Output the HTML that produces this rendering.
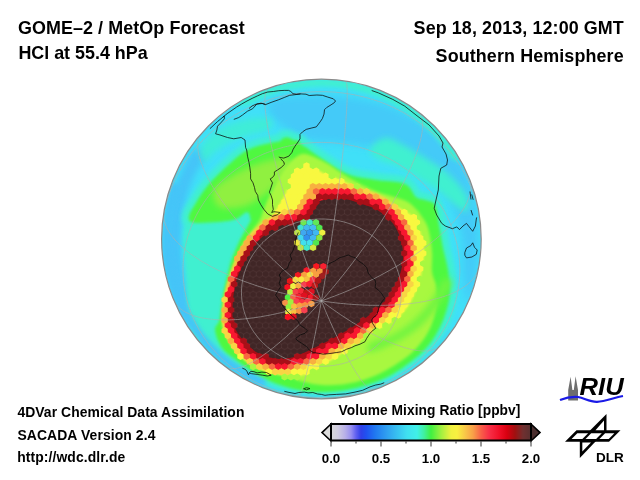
<!DOCTYPE html>
<html><head><meta charset="utf-8"><style>
html,body{margin:0;padding:0;background:#fff;}
svg{display:block;}
text{font-family:"Liberation Sans",Arial,sans-serif;font-weight:bold;fill:#000;}
svg{will-change:transform;}
</style></head><body>
<svg width="640" height="480" viewBox="0 0 640 480">
<defs>
<clipPath id="gc"><circle cx="321.4" cy="239.0" r="159.8"/></clipPath>
<filter id="b05" x="-10%" y="-10%" width="120%" height="120%"><feGaussianBlur stdDeviation="0.5"/></filter>
<filter id="b1" x="-10%" y="-10%" width="120%" height="120%"><feGaussianBlur stdDeviation="1"/></filter>
<filter id="b15" x="-10%" y="-10%" width="120%" height="120%"><feGaussianBlur stdDeviation="1.5"/></filter>
<filter id="b2" x="-10%" y="-10%" width="120%" height="120%"><feGaussianBlur stdDeviation="2"/></filter>
<filter id="b3" x="-10%" y="-10%" width="120%" height="120%"><feGaussianBlur stdDeviation="3"/></filter>
<filter id="b4" x="-10%" y="-10%" width="120%" height="120%"><feGaussianBlur stdDeviation="4"/></filter>
<pattern id="hexp" patternUnits="userSpaceOnUse" x="303.5" y="222.5" width="6.3" height="10.3"><path d="M0.00 -3.43L3.15 -1.72L3.15 1.72L0.00 3.43L-3.15 1.72L-3.15 -1.72ZM6.30 -3.43L9.45 -1.72L9.45 1.72L6.30 3.43L3.15 1.72L3.15 -1.72ZM3.15 1.72L6.30 3.43L6.30 6.87L3.15 8.58L0.00 6.87L0.00 3.43ZM0.00 6.87L3.15 8.58L3.15 12.02L0.00 13.73L-3.15 12.02L-3.15 8.58ZM6.30 6.87L9.45 8.58L9.45 12.02L6.30 13.73L3.15 12.02L3.15 8.58Z" fill="none" stroke="#6a5050" stroke-opacity="0.2" stroke-width="0.6"/></pattern>
<linearGradient id="cb" x1="0" x2="1" y1="0" y2="0"><stop offset="0.0" stop-color="#d8d8d8"/><stop offset="0.035" stop-color="#d0cce0"/><stop offset="0.07" stop-color="#b8b0e8"/><stop offset="0.1" stop-color="#9890f0"/><stop offset="0.125" stop-color="#6060f0"/><stop offset="0.15" stop-color="#3040e8"/><stop offset="0.175" stop-color="#2050f0"/><stop offset="0.22" stop-color="#2078f0"/><stop offset="0.28" stop-color="#30a0f0"/><stop offset="0.33" stop-color="#38c0f0"/><stop offset="0.38" stop-color="#40e0f0"/><stop offset="0.43" stop-color="#40f0e8"/><stop offset="0.465" stop-color="#40f0a0"/><stop offset="0.5" stop-color="#40f040"/><stop offset="0.55" stop-color="#a0f040"/><stop offset="0.6" stop-color="#f0f040"/><stop offset="0.63" stop-color="#f8f040"/><stop offset="0.67" stop-color="#f8c848"/><stop offset="0.71" stop-color="#f8a048"/><stop offset="0.75" stop-color="#f86048"/><stop offset="0.79" stop-color="#f83048"/><stop offset="0.84" stop-color="#f01028"/><stop offset="0.88" stop-color="#d80010"/><stop offset="0.92" stop-color="#a01010"/><stop offset="0.96" stop-color="#703030"/><stop offset="1.0" stop-color="#583030"/></linearGradient>
</defs>
<rect width="640" height="480" fill="#fff"/>
<g clip-path="url(#gc)">
<circle cx="321.4" cy="239.0" r="159.8" fill="#40e0f8"/>
<path d="M268.1 101.9 L267.2 104.3 L267.2 106.9 L267.8 109.7 L268.8 112.5 L270.0 115.0 L271.6 117.3 L273.9 119.6 L276.6 121.8 L279.4 124.0 L282.3 126.0 L285.0 128.0 L287.5 129.9 L290.0 131.8 L292.5 133.6 L295.0 135.3 L297.5 136.8 L300.0 138.0 L302.4 138.9 L304.6 139.6 L306.9 140.0 L309.3 140.3 L311.9 140.6 L315.0 141.0 L318.6 141.4 L322.6 141.7 L326.9 142.0 L331.3 142.3 L335.7 142.6 L340.0 143.0 L344.2 143.4 L348.3 143.9 L352.5 144.4 L356.7 144.9 L360.8 145.4 L365.0 146.0 L369.2 146.6 L373.4 147.1 L377.7 147.7 L381.9 148.3 L386.0 149.1 L390.0 150.0 L393.9 151.1 L397.8 152.3 L401.6 153.6 L405.2 155.0 L408.7 156.5 L412.0 158.0 L415.1 159.5 L417.9 161.0 L420.6 162.6 L423.2 164.2 L425.6 166.0 L428.0 168.0 L430.3 170.2 L432.4 172.6 L434.4 175.1 L436.3 177.7 L438.2 180.3 L440.0 183.0 L441.8 185.7 L443.6 188.3 L445.2 191.1 L446.9 193.9 L448.5 196.9 L450.0 200.0 L451.5 203.4 L452.9 206.9 L454.3 210.6 L455.6 214.4 L456.9 218.2 L458.0 222.0 L459.1 225.8 L460.1 229.5 L461.0 233.3 L461.8 237.1 L462.5 241.0 L463.0 245.0 L463.3 249.0 L463.3 253.0 L463.1 257.1 L463.0 261.2 L462.9 265.5 L463.0 270.0 L463.3 275.1 L463.7 280.9 L464.1 286.9 L464.7 292.4 L465.3 297.0 L466.0 300.0 L466.8 301.4 L467.8 301.7 L468.9 300.9 L470.0 299.4 L471.0 297.4 L472.0 295.0 L472.9 292.0 L473.9 288.3 L474.8 284.1 L475.7 279.4 L476.4 274.7 L477.0 270.0 L477.4 265.3 L477.7 260.4 L477.9 255.3 L478.0 250.2 L478.1 245.1 L478.0 240.0 L477.9 234.9 L477.7 229.8 L477.4 224.7 L477.0 219.6 L476.5 214.7 L476.0 210.0 L475.4 205.5 L474.7 201.2 L473.9 197.1 L473.1 193.0 L472.1 189.0 L471.0 185.0 L469.8 181.0 L468.5 177.0 L467.1 173.1 L465.5 169.3 L463.8 165.6 L462.0 162.0 L460.0 158.6 L457.9 155.2 L455.6 152.0 L453.1 148.9 L450.6 145.9 L448.0 143.0 L445.3 140.2 L442.4 137.6 L439.4 135.1 L436.3 132.6 L433.2 130.3 L430.0 128.0 L426.8 125.8 L423.6 123.7 L420.2 121.7 L416.9 119.7 L413.5 117.8 L410.0 116.0 L406.5 114.2 L403.0 112.4 L399.5 110.7 L395.9 109.0 L392.0 107.5 L388.0 106.0 L383.7 104.6 L379.2 103.3 L374.5 102.1 L369.7 100.9 L364.9 99.9 L360.0 99.0 L355.1 98.2 L350.1 97.6 L345.1 97.1 L340.1 96.6 L335.0 96.3 L330.0 96.0 L325.0 95.8 L320.0 95.6 L315.0 95.6 L310.0 95.6 L305.0 95.7 L300.0 96.0 L294.7 96.3 L288.9 96.6 L283.1 97.1 L277.8 97.7 L273.3 98.7 L270.0 100.0 L268.1 101.9Z" fill="#44c4f8" filter="url(#b4)" fill-opacity="0.8"/>
<path d="M191.7 152.4 L189.3 156.1 L186.8 160.6 L184.3 165.6 L182.0 170.5 L180.0 175.0 L178.2 179.1 L176.6 183.1 L175.1 187.2 L173.8 191.3 L172.5 195.5 L171.4 200.0 L170.4 204.7 L169.6 209.6 L168.8 214.7 L168.2 219.8 L167.6 224.9 L167.0 230.0 L166.4 235.0 L165.7 240.0 L165.0 245.0 L164.6 250.0 L164.3 255.0 L164.5 260.0 L165.0 265.0 L165.9 270.0 L167.0 275.0 L168.3 280.0 L169.8 285.0 L171.5 290.0 L173.3 295.1 L175.4 300.2 L177.6 305.3 L179.9 310.4 L182.4 315.3 L185.0 320.0 L187.8 324.7 L191.0 329.4 L194.3 334.1 L197.5 338.3 L200.5 342.0 L203.0 345.0 L205.2 347.3 L207.4 349.2 L209.2 350.6 L210.7 351.2 L211.7 351.1 L212.0 350.0 L211.5 347.8 L210.1 344.4 L208.3 340.2 L206.2 335.6 L204.0 330.7 L202.0 326.0 L200.1 321.3 L198.0 316.3 L195.8 311.1 L193.7 305.7 L191.7 300.4 L190.0 295.0 L188.5 289.6 L187.1 284.1 L185.8 278.6 L184.7 273.0 L183.8 267.5 L183.0 262.0 L182.4 256.6 L182.0 251.2 L181.8 245.8 L181.7 240.5 L181.8 235.2 L182.0 230.0 L182.3 224.8 L182.8 219.7 L183.4 214.6 L184.1 209.6 L185.0 204.7 L186.0 200.0 L187.2 195.5 L188.6 191.1 L190.1 186.9 L191.7 182.8 L193.3 178.8 L195.0 175.0 L197.0 171.2 L199.4 167.4 L201.8 163.8 L204.0 160.4 L205.5 157.4 L206.0 155.0 L205.4 153.0 L203.8 151.1 L201.6 149.7 L199.0 148.9 L196.4 148.9 L194.0 150.0 L191.7 152.4Z" fill="#44c4f8" filter="url(#b3)"/>
<path d="M458.5 156.8 L456.4 153.5 L454.3 150.2 L452.1 147.0 L449.8 143.8 L447.4 140.7 L444.9 137.6 L442.4 134.6 L439.8 131.7 L437.1 128.8 L434.4 126.0 L431.6 123.3 L428.7 120.6 L425.8 118.0 L422.8 115.5 L419.7 113.0 L416.6 110.6 L413.4 108.3 L410.2 106.1 L406.9 104.0 L403.6 101.9 L400.2 100.0 L396.7 98.1 L393.2 96.3 L389.7 94.5 L386.2 92.9 L382.6 91.4 L378.9 89.9 L375.2 88.5 L371.5 87.3 L367.8 86.1 L364.0 85.0 L360.2 84.0 L356.4 83.1 L352.6 82.3 L348.7 81.6 L344.8 80.9 L341.0 80.4 L337.1 80.0 L333.2 79.6 L329.2 79.4 L325.3 79.2 L321.4 79.2 L317.5 79.2 L313.6 79.4 L309.6 79.6 L305.7 80.0 L301.8 80.4 L298.0 80.9 L294.1 81.6 L290.2 82.3 L286.4 83.1 L282.6 84.0 L278.8 85.0 L275.0 86.1 L271.3 87.3 L267.6 88.5 L263.9 89.9 L260.2 91.4 L256.6 92.9 L253.1 94.5 L249.6 96.3 L246.1 98.1 L242.6 100.0 L239.2 101.9 L235.9 104.0 L232.6 106.1 L231.6 106.8 L247.7 105.2 L249.4 104.2 L262.9 97.8 L277.0 92.8 L291.6 89.1 L306.4 86.9 L321.4 86.2 L336.4 86.9 L351.2 89.1 L365.8 92.8 L379.9 97.8 L393.4 104.2 L406.3 112.0 L418.3 120.9 L429.4 131.0 L439.5 142.1 L448.4 154.1 L451.3 158.8 L462.0 163.0 L460.4 160.2 L458.5 156.8Z" fill="#40f0d0" filter="url(#b2)"/>
<path d="M381.9 138.9 L378.7 140.6 L375.6 142.9 L373.0 145.4 L371.0 147.9 L370.0 150.0 L370.2 151.8 L371.3 153.7 L373.1 155.4 L375.4 157.1 L377.8 158.6 L380.0 160.0 L382.2 161.1 L384.6 161.9 L387.2 162.6 L389.8 163.3 L392.4 164.1 L395.0 165.0 L397.5 166.1 L400.0 167.4 L402.5 168.8 L405.0 170.1 L407.5 171.6 L410.0 173.0 L412.5 174.4 L415.0 175.9 L417.5 177.4 L420.0 178.9 L422.5 180.4 L425.0 182.0 L427.5 183.6 L430.0 185.1 L432.5 186.8 L435.0 188.4 L437.5 190.1 L440.0 192.0 L442.5 194.1 L445.1 196.3 L447.8 198.7 L450.3 201.0 L452.7 203.1 L455.0 205.0 L457.2 206.7 L459.3 208.5 L461.3 210.1 L463.1 211.3 L464.7 212.0 L466.0 212.0 L467.0 211.1 L467.7 209.5 L468.2 207.3 L468.4 204.9 L468.3 202.3 L468.0 200.0 L467.3 197.8 L466.3 195.5 L465.1 193.2 L463.6 190.8 L461.9 188.4 L460.0 186.0 L458.0 183.5 L455.7 181.0 L453.2 178.4 L450.6 175.9 L447.9 173.4 L445.0 171.0 L442.0 168.7 L438.7 166.5 L435.3 164.3 L431.9 162.2 L428.4 160.1 L425.0 158.0 L421.7 155.9 L418.3 153.8 L415.0 151.7 L411.7 149.7 L408.3 147.8 L405.0 146.0 L401.6 144.2 L398.1 142.3 L394.7 140.5 L391.3 139.0 L388.0 138.1 L385.0 138.0 L381.9 138.9Z" fill="#40f0d0" filter="url(#b3)"/>
<path d="M199.9 152.3 L200.2 154.8 L200.8 157.4 L201.7 159.6 L202.8 161.3 L204.0 162.0 L205.4 161.6 L206.9 160.3 L208.7 158.4 L210.6 156.1 L212.7 153.9 L215.0 152.0 L217.5 150.3 L220.2 148.6 L223.1 146.8 L226.0 145.1 L229.0 143.5 L232.0 142.0 L234.9 140.6 L237.9 139.4 L240.9 138.2 L244.0 137.1 L247.0 136.0 L250.0 135.0 L253.2 134.1 L256.5 133.4 L259.9 132.7 L263.0 132.0 L265.8 131.1 L268.0 130.0 L269.7 128.5 L271.0 126.7 L272.0 124.8 L272.5 122.9 L272.5 121.3 L272.0 120.0 L270.8 119.1 L268.8 118.6 L266.4 118.2 L263.6 118.0 L260.8 118.0 L258.0 118.0 L255.2 118.2 L252.3 118.5 L249.2 118.9 L246.1 119.5 L243.0 120.2 L240.0 121.0 L237.0 121.9 L233.9 122.9 L230.8 124.1 L227.7 125.3 L224.8 126.6 L222.0 128.0 L219.4 129.5 L216.8 131.0 L214.4 132.7 L212.1 134.4 L209.9 136.2 L208.0 138.0 L206.2 139.9 L204.4 141.9 L202.9 143.9 L201.6 145.9 L200.6 148.0 L200.0 150.0 L199.9 152.3Z" fill="#40f0d0" filter="url(#b3)" fill-opacity="0.8"/>
<path d="M231.9 365.6 L235.0 368.0 L235.1 368.0 L238.5 370.6 L238.6 370.6 L242.3 373.2 L242.4 373.3 L246.3 375.9 L246.4 376.0 L250.4 378.5 L250.6 378.6 L254.4 380.9 L254.7 381.0 L258.5 383.2 L258.7 383.2 L262.6 385.3 L262.8 385.3 L266.8 387.2 L267.0 387.3 L271.0 389.1 L271.3 389.2 L275.4 390.8 L275.6 390.9 L279.8 392.4 L280.0 392.5 L284.2 393.8 L284.5 393.9 L288.8 395.0 L289.0 395.1 L293.4 396.1 L293.6 396.1 L298.0 397.0 L298.2 397.1 L302.6 397.8 L302.8 397.8 L307.2 398.3 L307.5 398.4 L311.9 398.8 L312.2 398.8 L316.6 399.0 L316.9 399.0 L321.3 399.0 L321.5 399.0 L326.0 398.9 L326.2 398.9 L330.6 398.7 L330.8 398.7 L335.2 398.4 L335.4 398.4 L339.8 397.9 L340.0 397.9 L344.4 397.3 L344.6 397.3 L349.0 396.6 L349.2 396.5 L353.6 395.7 L353.8 395.7 L358.2 394.7 L358.4 394.7 L362.7 393.6 L362.9 393.5 L367.2 392.3 L367.3 392.3 L371.6 391.0 L371.8 390.9 L376.0 389.5 L376.3 389.4 L380.4 387.8 L380.7 387.7 L384.8 386.0 L385.0 385.9 L389.0 384.1 L389.3 383.9 L393.2 381.9 L393.5 381.8 L397.4 379.6 L397.6 379.4 L401.4 377.1 L401.6 377.0 L405.3 374.5 L405.4 374.4 L409.1 371.9 L409.2 371.8 L412.8 369.1 L412.9 369.1 L416.4 366.4 L416.5 366.3 L419.9 363.5 L420.1 363.4 L423.5 360.5 L423.7 360.3 L426.9 357.4 L427.2 357.1 L430.3 354.0 L430.6 353.7 L433.4 350.4 L433.7 350.1 L436.4 346.7 L436.6 346.4 L439.1 342.7 L439.3 342.5 L441.7 338.7 L441.8 338.4 L444.0 334.6 L444.2 334.3 L446.2 330.4 L446.3 330.2 L448.1 326.3 L448.3 326.0 L449.9 322.0 L450.1 321.7 L451.6 317.5 L451.7 317.2 L453.0 313.0 L453.1 312.7 L454.3 308.5 L454.4 308.2 L455.3 304.1 L455.4 303.8 L456.1 299.9 L456.2 299.4 L456.6 295.6 L456.6 295.1 L456.7 291.4 L456.7 291.0 L456.6 287.4 L456.6 287.1 L456.4 283.7 L456.4 283.6 L456.1 280.4 L455.9 277.5 L455.7 274.9 L455.7 274.7 L455.4 272.5 L455.4 272.3 L455.1 270.4 L455.1 270.2 L454.8 268.2 L454.7 268.1 L454.3 266.1 L454.3 266.0 L453.9 263.6 L453.8 263.5 L453.3 260.9 L453.2 260.7 L452.6 257.9 L452.6 257.8 L451.8 254.8 L451.1 251.8 L450.3 248.7 L449.7 245.5 L449.0 242.2 L448.4 238.6 L447.8 234.9 L447.2 231.2 L447.2 231.1 L446.5 227.4 L446.5 227.4 L445.9 223.8 L445.3 220.4 L444.8 216.7 L444.8 216.7 L444.3 213.0 L444.3 212.7 L443.7 209.3 L443.6 208.8 L442.8 205.7 L442.5 204.8 L441.5 202.3 L441.2 201.8 L440.9 201.2 L440.5 200.7 L439.2 199.0 L438.8 198.5 L438.3 198.0 L437.7 197.6 L436.1 196.4 L435.4 196.0 L434.7 195.7 L433.0 194.9 L432.1 194.7 L430.3 194.2 L430.1 194.1 L428.6 193.8 L427.1 193.3 L427.1 193.3 L425.6 192.8 L424.7 192.6 L423.2 192.3 L423.0 192.3 L421.7 192.1 L421.0 192.0 L420.7 191.8 L420.4 191.6 L420.0 191.2 L419.0 189.6 L417.7 187.2 L417.5 186.8 L415.8 184.2 L415.5 183.7 L415.1 183.3 L412.9 181.0 L412.5 180.6 L412.0 180.2 L411.5 179.8 L408.7 178.1 L408.2 177.8 L407.7 177.5 L407.1 177.3 L403.4 176.2 L402.5 175.9 L398.1 175.2 L397.6 175.1 L392.7 174.6 L392.6 174.6 L387.4 174.2 L382.5 173.7 L377.7 173.1 L373.0 172.3 L372.8 172.3 L368.0 171.6 L363.3 170.9 L358.7 170.0 L354.3 168.9 L350.1 167.5 L345.8 165.5 L341.3 163.0 L336.6 160.1 L332.0 157.0 L327.5 153.9 L327.4 153.9 L323.3 151.2 L319.6 148.7 L316.3 146.4 L313.2 144.1 L313.1 144.0 L310.1 141.9 L309.8 141.7 L306.9 139.8 L306.7 139.7 L306.2 138.7 L305.8 138.1 L305.5 137.6 L305.1 137.2 L304.6 136.7 L304.1 136.3 L302.5 135.1 L301.9 134.8 L301.2 134.4 L300.6 134.2 L299.9 134.0 L297.6 133.5 L296.9 133.3 L296.2 133.3 L295.7 133.3 L294.2 132.4 L293.6 132.1 L293.1 131.9 L290.1 130.8 L289.5 130.6 L288.8 130.4 L288.2 130.4 L287.6 130.3 L284.7 130.4 L283.9 130.4 L283.2 130.5 L282.5 130.7 L281.8 131.0 L281.2 131.3 L278.4 133.0 L277.8 133.4 L277.2 133.9 L276.7 134.4 L276.5 134.7 L275.1 134.9 L274.8 135.0 L272.3 135.5 L272.1 135.5 L269.2 136.2 L265.9 136.9 L262.1 137.8 L261.9 137.8 L257.9 138.8 L257.6 138.9 L253.5 140.1 L253.1 140.2 L249.0 141.7 L248.4 141.9 L244.6 143.6 L244.0 144.0 L240.4 146.0 L239.9 146.3 L236.5 148.7 L236.1 149.0 L232.8 151.6 L232.5 151.8 L229.2 154.6 L229.1 154.7 L225.7 157.7 L225.7 157.8 L222.3 160.8 L222.2 160.9 L218.7 164.1 L218.6 164.2 L215.0 167.7 L214.9 167.8 L211.3 171.5 L211.2 171.6 L207.7 175.2 L207.6 175.4 L204.3 178.9 L204.2 179.1 L201.3 182.4 L201.1 182.7 L198.6 185.9 L198.4 186.1 L196.2 189.3 L196.0 189.5 L194.0 192.5 L193.9 192.7 L192.2 195.6 L192.1 195.7 L190.5 198.4 L189.0 200.9 L187.6 203.1 L186.3 205.2 L186.2 205.4 L185.0 207.3 L184.9 207.6 L183.9 209.5 L183.6 210.1 L182.9 211.8 L182.7 212.3 L182.5 212.9 L182.2 214.4 L182.0 215.3 L181.9 216.7 L181.8 217.3 L181.8 218.6 L181.8 219.4 L182.0 220.2 L182.2 221.4 L182.4 222.0 L182.6 222.7 L182.9 223.3 L183.2 223.8 L183.9 224.9 L184.3 225.4 L184.7 225.9 L183.3 231.0 L182.9 239.4 L183.4 249.3 L184.3 260.0 L185.3 270.5 L186.0 280.0 L186.4 288.7 L186.7 297.4 L187.1 305.9 L187.7 314.3 L188.7 322.3 L190.0 330.0 L191.7 337.7 L192.3 339.8 L194.7 342.9 L194.8 343.0 L197.3 346.0 L197.4 346.0 L200.0 349.0 L200.1 349.0 L202.7 351.9 L202.8 352.0 L205.5 354.8 L205.6 354.9 L208.4 357.6 L208.5 357.7 L211.4 360.3 L211.4 360.4 L214.4 363.0 L214.4 363.1 L217.4 365.6 L217.5 365.7 L220.6 368.1 L220.7 368.2 L223.8 370.5 L223.9 370.6 L226.0 372.2 L227.6 371.6 L230.0 370.0 L230.5 367.9 L229.5 365.2 L228.2 363.0 L229.0 363.6 L231.9 365.6Z" fill="#40f0d0" filter="url(#b2)"/>
<path d="M203.0 346.3 L205.7 349.2 L208.4 352.0 L211.2 354.7 L214.1 357.4 L217.0 360.0 L220.0 362.5 L223.1 365.0 L226.2 367.4 L229.4 369.7 L232.6 371.9 L235.9 374.0 L239.2 376.1 L242.6 378.0 L246.1 379.9 L249.6 381.7 L253.1 383.5 L256.6 385.1 L260.2 386.6 L263.9 388.1 L267.6 389.5 L271.3 390.7 L275.0 391.9 L278.8 393.0 L282.6 394.0 L286.4 394.9 L290.2 395.7 L294.1 396.4 L298.0 397.1 L301.8 397.6 L305.7 398.0 L309.6 398.4 L313.6 398.6 L317.5 398.8 L321.4 398.8 L325.3 398.8 L329.2 398.6 L333.2 398.4 L337.1 398.0 L341.0 397.6 L344.8 397.1 L348.7 396.4 L352.6 395.7 L356.4 394.9 L360.2 394.0 L364.0 393.0 L367.8 391.9 L371.5 390.7 L375.2 389.5 L378.9 388.1 L382.6 386.6 L386.2 385.1 L389.7 383.5 L393.2 381.7 L396.7 379.9 L400.2 378.0 L403.6 376.1 L406.9 374.0 L410.2 371.9 L413.4 369.7 L416.6 367.4 L419.7 365.0 L422.8 362.5 L425.8 360.0 L428.7 357.4 L431.6 354.7 L434.4 352.0 L437.1 349.2 L439.8 346.3 L442.4 343.4 L444.9 340.4 L447.4 337.3 L449.8 334.2 L452.1 331.0 L452.7 330.0 L447.6 330.0 L441.8 337.8 L431.6 349.2 L420.2 359.4 L408.0 368.5 L394.8 376.4 L381.0 382.9 L366.6 388.1 L351.8 391.8 L336.7 394.0 L321.4 394.8 L306.1 394.0 L291.0 391.8 L276.2 388.1 L261.8 382.9 L248.0 376.4 L234.8 368.5 L222.6 359.4 L211.2 349.2 L201.0 337.8 L200.0 336.5 L200.0 342.9 L200.4 343.4 L203.0 346.3Z" fill="#40dcf0" filter="url(#b15)"/>
<path d="M169.6 191.4 L167.0 201.3 L165.0 211.4 L163.7 220.5 L162.9 229.8 L162.6 239.0 L162.9 248.2 L163.7 257.5 L165.0 266.6 L166.9 275.6 L169.3 284.6 L172.2 293.3 L175.6 301.9 L179.5 310.3 L183.9 318.4 L188.8 326.3 L194.1 333.9 L199.8 341.1 L205.9 348.0 L212.4 354.5 L219.3 360.6 L226.7 366.4 L234.5 371.8 L242.0 376.5 L249.5 380.8 L256.6 384.5 L261.9 386.2 L265.0 385.1 L266.1 382.0 L264.9 378.8 L260.3 376.1 L253.3 373.2 L246.0 369.6 L238.9 365.1 L231.5 360.0 L224.5 354.5 L218.0 348.7 L211.7 342.4 L205.9 335.9 L200.5 329.0 L195.4 321.8 L190.8 314.4 L186.6 306.7 L182.9 298.7 L179.7 290.6 L176.9 282.3 L174.7 273.8 L172.9 265.2 L171.6 256.5 L170.9 247.8 L170.6 239.0 L170.9 230.2 L171.6 221.5 L172.9 212.8 L175.4 203.4 L178.3 194.2 L179.7 187.4 L178.2 183.7 L175.2 182.6 L172.2 184.7 L169.6 191.4Z" fill="#44c4f8" filter="url(#b2)"/>
<path d="M296.1 140.3 L293.8 140.3 L293.7 140.2 L290.7 138.4 L287.7 137.3 L284.8 137.4 L282.0 139.0 L280.4 141.3 L278.4 141.5 L276.2 141.9 L273.7 142.3 L270.8 143.0 L267.4 143.8 L263.6 144.6 L259.5 145.6 L255.4 146.8 L251.3 148.3 L247.5 150.0 L243.9 152.1 L240.5 154.5 L237.1 157.1 L233.7 160.0 L230.4 162.9 L227.0 166.0 L223.5 169.3 L219.9 172.8 L216.2 176.4 L212.7 180.1 L209.5 183.6 L206.6 187.0 L204.1 190.2 L201.9 193.3 L199.9 196.3 L198.1 199.2 L196.5 202.0 L195.0 204.5 L193.6 206.8 L192.2 209.0 L191.0 210.9 L190.1 212.8 L189.4 214.4 L189.0 216.0 L188.8 217.5 L188.8 218.8 L189.1 220.0 L189.7 221.0 L191.0 221.9 L193.0 222.5 L196.0 222.9 L200.0 222.9 L204.6 222.8 L209.4 222.6 L214.0 222.3 L218.0 222.0 L221.5 221.7 L224.8 221.3 L227.8 220.9 L230.7 220.4 L233.5 219.8 L236.0 219.0 L238.4 217.9 L240.6 216.3 L242.6 214.7 L244.4 213.2 L246.1 212.2 L247.5 212.0 L248.6 212.9 L249.5 214.7 L250.1 217.1 L250.6 219.4 L250.9 220.2 L250.0 222.0 L248.5 224.8 L246.8 227.7 L245.1 230.8 L243.3 233.8 L241.6 236.9 L240.0 240.0 L238.5 243.2 L237.0 246.5 L235.6 249.8 L234.2 253.1 L233.0 256.1 L232.0 258.8 L231.2 260.9 L230.7 262.6 L230.2 264.0 L229.8 265.5 L229.4 267.4 L228.8 270.0 L227.9 273.4 L226.9 277.3 L225.9 281.6 L224.8 286.2 L223.9 290.7 L223.0 295.0 L222.3 299.3 L221.7 303.9 L221.1 308.4 L220.6 312.8 L220.0 316.7 L219.4 320.0 L218.6 322.4 L217.6 324.1 L216.5 325.4 L215.7 326.6 L215.1 328.0 L215.0 330.0 L215.4 332.6 L216.2 335.6 L217.3 338.9 L218.7 342.1 L220.3 345.3 L222.0 348.0 L223.8 350.3 L225.9 352.3 L228.1 354.2 L230.5 356.0 L233.1 357.9 L236.0 360.0 L239.2 362.4 L242.7 364.9 L246.4 367.5 L250.2 370.1 L254.1 372.6 L258.0 374.9 L261.9 377.0 L265.8 379.0 L269.8 380.9 L273.8 382.7 L277.9 384.3 L282.1 385.8 L286.3 387.1 L290.6 388.3 L294.9 389.3 L299.3 390.1 L303.7 390.9 L308.1 391.4 L312.5 391.8 L316.9 392.0 L321.4 392.0 L325.8 391.9 L330.3 391.7 L334.7 391.4 L339.1 391.0 L343.5 390.4 L347.9 389.7 L352.3 388.8 L356.7 387.9 L361.0 386.8 L365.3 385.6 L369.6 384.3 L373.8 382.8 L378.0 381.3 L382.1 379.6 L386.1 377.7 L390.0 375.7 L393.9 373.5 L397.7 371.1 L401.4 368.7 L405.0 366.1 L408.6 363.5 L412.1 360.8 L415.6 358.0 L419.0 355.2 L422.2 352.2 L425.3 349.1 L428.2 345.8 L430.9 342.4 L433.4 338.7 L435.8 335.0 L437.9 331.1 L440.0 327.2 L441.8 323.3 L443.5 319.3 L445.0 315.1 L446.4 310.8 L447.5 306.6 L448.5 302.5 L449.2 298.6 L449.6 294.8 L449.7 291.1 L449.6 287.6 L449.4 284.2 L449.1 280.9 L448.9 278.0 L448.7 275.5 L448.5 273.3 L448.2 271.3 L447.9 269.4 L447.5 267.4 L447.0 265.0 L446.4 262.3 L445.8 259.5 L445.0 256.5 L444.3 253.4 L443.5 250.2 L442.8 246.9 L442.1 243.4 L441.5 239.8 L440.9 236.1 L440.3 232.3 L439.6 228.6 L439.0 225.0 L438.4 221.4 L437.9 217.6 L437.4 213.9 L436.8 210.5 L436.0 207.4 L435.0 205.0 L433.7 203.3 L432.1 202.1 L430.3 201.4 L428.5 201.0 L426.7 200.5 L425.0 200.0 L423.4 199.5 L421.9 199.2 L420.5 199.0 L419.0 198.7 L417.4 198.1 L415.8 197.0 L414.3 195.3 L413.0 193.1 L411.6 190.6 L410.0 188.0 L407.8 185.8 L405.0 184.0 L401.3 182.8 L396.9 182.1 L392.0 181.6 L386.8 181.1 L381.7 180.7 L376.7 180.0 L371.9 179.2 L367.0 178.6 L362.1 177.8 L357.2 176.9 L352.3 175.7 L347.5 174.0 L342.7 171.8 L337.7 169.0 L332.8 165.9 L328.1 162.8 L323.6 159.7 L319.4 157.0 L315.6 154.5 L312.2 152.1 L309.1 149.8 L306.0 147.6 L303.1 145.7 L301.3 144.7 L301.1 144.1 L300.0 142.0 L298.4 140.8 L296.1 140.3Z" fill="#50f840" filter="url(#b15)"/>
<path d="M213.2 192.7 L213.2 195.7 L213.8 198.8 L214.9 201.6 L216.3 204.1 L218.0 206.0 L220.1 207.2 L222.7 208.0 L225.7 208.3 L228.9 208.4 L232.0 208.2 L235.0 208.0 L237.8 207.6 L240.7 207.1 L243.6 206.3 L246.4 205.4 L249.2 204.3 L252.0 203.0 L254.7 201.6 L257.4 200.0 L260.0 198.2 L262.6 196.3 L265.3 194.2 L268.0 192.0 L270.9 189.5 L274.0 186.8 L277.2 183.9 L280.2 180.9 L282.8 177.9 L285.0 175.0 L286.8 171.9 L288.4 168.6 L289.7 165.3 L290.5 162.3 L290.6 159.7 L290.0 158.0 L288.4 157.2 L285.8 157.1 L282.6 157.6 L279.0 158.3 L275.4 159.2 L272.0 160.0 L268.8 160.7 L265.5 161.6 L262.1 162.5 L258.7 163.6 L255.4 164.7 L252.0 166.0 L248.6 167.4 L245.3 168.9 L241.9 170.5 L238.5 172.2 L235.2 174.1 L232.0 176.0 L228.6 178.1 L225.0 180.3 L221.5 182.6 L218.3 185.0 L215.7 187.5 L214.0 190.0 L213.2 192.7Z" fill="#90f040" filter="url(#b3)"/>
<path d="M290.2 161.9 L288.8 163.4 L287.4 165.1 L286.0 166.9 L284.7 168.8 L283.3 170.8 L281.9 173.0 L280.5 175.3 L279.1 177.7 L277.8 180.2 L276.4 182.8 L275.0 185.4 L273.6 188.0 L272.2 190.8 L270.7 193.6 L269.3 196.4 L268.0 199.2 L266.7 202.0 L265.5 204.9 L264.5 207.8 L263.4 210.8 L262.4 213.7 L261.4 216.4 L260.4 218.8 L259.3 220.7 L258.3 222.3 L257.3 223.7 L256.2 225.0 L255.1 226.4 L254.0 228.0 L252.9 229.8 L251.7 231.5 L250.6 233.4 L249.4 235.4 L248.1 237.6 L246.7 240.0 L245.1 242.8 L243.2 246.0 L241.3 249.5 L239.4 252.8 L237.8 256.0 L236.5 258.8 L235.8 260.9 L235.4 262.6 L235.3 264.0 L235.3 265.5 L235.0 267.4 L234.4 270.0 L233.3 273.4 L231.9 277.3 L230.3 281.6 L228.7 286.2 L227.2 290.7 L226.0 295.0 L225.1 299.3 L224.3 303.9 L223.6 308.4 L223.1 312.8 L222.7 316.7 L222.5 320.0 L222.4 322.5 L222.3 324.3 L222.4 325.6 L222.7 326.9 L223.2 328.2 L224.0 330.0 L225.2 332.3 L226.6 334.8 L228.3 337.4 L230.2 340.1 L232.1 342.7 L234.0 345.0 L235.8 347.1 L237.7 349.0 L239.6 350.9 L241.6 352.6 L243.7 354.3 L246.0 356.0 L248.4 357.6 L251.0 359.3 L253.7 360.8 L256.5 362.3 L259.3 363.7 L262.0 365.0 L264.7 366.2 L267.4 367.2 L270.1 368.1 L272.8 369.1 L275.6 370.1 L278.4 371.2 L281.3 372.5 L284.1 374.0 L287.0 375.6 L290.0 377.1 L293.2 378.5 L296.6 379.8 L300.3 380.9 L304.4 382.0 L308.5 383.0 L312.8 383.9 L317.1 384.5 L321.4 385.0 L325.6 385.2 L329.9 385.3 L334.1 385.1 L338.4 384.8 L342.7 384.4 L346.9 383.8 L351.1 383.1 L355.3 382.2 L359.5 381.1 L363.6 379.9 L367.7 378.6 L371.7 377.1 L375.6 375.5 L379.5 373.7 L383.3 371.8 L387.1 369.8 L390.8 367.6 L394.4 365.4 L398.0 363.1 L401.5 360.8 L405.0 358.3 L408.4 355.7 L411.6 353.0 L414.6 350.1 L417.5 347.0 L420.2 343.8 L422.8 340.4 L425.2 336.9 L427.4 333.3 L429.4 329.6 L431.1 325.7 L432.6 321.6 L433.9 317.4 L435.0 313.3 L435.9 309.2 L436.6 305.5 L437.0 302.1 L437.2 298.8 L437.2 295.7 L437.1 292.7 L436.8 289.8 L436.4 287.0 L435.9 284.4 L435.1 281.9 L434.2 279.6 L433.3 277.2 L432.5 274.7 L432.0 272.0 L431.8 269.0 L431.8 265.9 L432.0 262.6 L432.1 259.1 L432.2 255.6 L432.0 252.0 L431.6 248.1 L431.1 243.9 L430.5 239.6 L429.8 235.4 L428.9 231.5 L428.0 228.0 L426.9 225.0 L425.5 222.3 L424.0 219.8 L422.5 217.6 L421.2 215.7 L420.0 214.0 L419.2 212.7 L418.5 211.8 L418.1 211.1 L417.5 210.6 L416.8 209.9 L415.8 209.0 L414.7 207.8 L413.5 206.6 L412.2 205.2 L410.5 203.8 L408.3 202.3 L405.4 200.8 L401.5 199.3 L396.8 197.8 L391.5 196.3 L386.0 194.6 L380.5 192.9 L375.4 191.0 L370.5 188.9 L365.6 186.6 L360.7 184.2 L356.0 181.7 L351.6 179.3 L347.5 177.0 L343.8 174.8 L340.6 172.6 L337.5 170.4 L334.7 168.4 L331.9 166.4 L329.0 164.6 L326.1 162.9 L323.1 161.3 L320.2 159.8 L317.5 158.4 L314.9 157.2 L312.5 156.2 L310.4 155.4 L308.5 154.7 L306.9 154.2 L305.3 153.9 L303.7 153.8 L302.0 154.0 L300.2 154.5 L298.5 155.3 L296.7 156.4 L295.0 157.7 L293.3 159.0 L291.7 160.4 L290.2 161.9Z" fill="#a8f840" filter="url(#b15)"/>
<path d="M451.5 280.6 L450.3 279.6 L448.6 279.0 L446.6 278.8 L444.7 279.1 L443.0 280.0 L441.5 281.6 L440.1 284.0 L438.7 286.9 L437.2 290.0 L435.7 293.1 L434.0 296.0 L432.2 298.7 L430.3 301.4 L428.3 304.2 L426.3 306.9 L424.2 309.5 L422.0 312.0 L419.8 314.4 L417.6 316.6 L415.4 318.8 L413.0 320.9 L410.6 323.0 L408.0 325.0 L405.3 327.0 L402.4 329.0 L399.4 330.9 L396.3 332.7 L393.2 334.4 L390.0 336.0 L386.6 337.4 L382.8 338.6 L379.0 339.6 L375.4 340.7 L372.3 341.8 L370.0 343.0 L368.5 344.5 L367.5 346.3 L367.0 348.1 L367.0 349.8 L367.3 351.2 L368.0 352.0 L369.1 352.3 L370.7 352.1 L372.6 351.6 L374.9 350.9 L377.4 350.0 L380.0 349.0 L382.9 347.9 L386.1 346.6 L389.6 345.1 L393.2 343.4 L396.7 341.7 L400.0 340.0 L403.2 338.2 L406.3 336.3 L409.4 334.3 L412.4 332.3 L415.3 330.2 L418.0 328.0 L420.6 325.8 L423.0 323.6 L425.4 321.2 L427.6 318.9 L429.8 316.5 L432.0 314.0 L434.2 311.4 L436.3 308.8 L438.4 306.1 L440.4 303.4 L442.3 300.7 L444.0 298.0 L445.8 295.2 L447.6 292.1 L449.3 289.1 L450.7 286.3 L451.7 283.9 L452.0 282.0 L451.5 280.6Z" fill="#70f440" filter="url(#b3)"/>
<path d="M294.7 172.5 L293.6 174.4 L292.6 176.5 L291.6 178.7 L290.6 181.0 L289.6 183.3 L288.6 185.7 L287.5 188.2 L286.5 190.8 L285.4 193.4 L284.4 195.8 L283.3 198.0 L282.2 199.9 L281.2 201.7 L280.1 203.2 L279.1 204.8 L278.0 206.3 L277.0 208.0 L276.0 209.7 L275.2 211.5 L274.3 213.3 L273.4 215.1 L272.2 216.9 L270.8 218.8 L269.0 220.6 L266.9 222.5 L264.6 224.4 L262.2 226.3 L260.0 228.2 L258.0 230.0 L256.3 231.6 L254.8 233.1 L253.4 234.5 L252.0 236.1 L250.6 237.8 L249.0 240.0 L247.2 242.7 L245.2 245.9 L243.2 249.3 L241.2 252.8 L239.4 256.0 L238.0 258.8 L237.0 260.9 L236.4 262.6 L236.0 264.0 L235.6 265.5 L235.2 267.4 L234.4 270.0 L233.3 273.3 L231.9 277.2 L230.4 281.5 L228.9 286.0 L227.6 290.6 L226.5 295.0 L225.6 299.5 L224.9 304.2 L224.2 308.9 L223.8 313.6 L223.5 318.0 L223.5 322.0 L223.8 325.6 L224.3 328.9 L225.0 331.9 L225.9 334.7 L226.9 337.4 L228.0 340.0 L229.2 342.5 L230.5 344.8 L232.0 346.9 L233.5 349.0 L235.2 351.0 L237.0 353.0 L238.9 355.0 L240.8 356.9 L242.8 358.8 L245.0 360.6 L247.4 362.3 L250.0 364.0 L252.8 365.7 L255.8 367.4 L258.9 369.0 L262.3 370.5 L266.0 371.9 L270.0 373.0 L274.4 374.1 L279.3 375.1 L284.4 376.0 L289.6 376.6 L294.9 376.6 L300.0 376.0 L305.1 374.5 L310.4 372.3 L315.6 369.5 L320.7 366.6 L325.6 363.6 L330.0 361.0 L333.9 358.7 L337.4 356.4 L340.6 354.2 L343.7 352.0 L346.8 349.8 L350.0 347.5 L353.3 345.1 L356.6 342.7 L359.9 340.3 L363.2 337.9 L366.6 335.5 L370.0 333.3 L373.6 331.2 L377.5 329.3 L381.4 327.4 L385.2 325.6 L388.8 323.7 L392.0 321.7 L394.9 319.7 L397.5 317.6 L399.9 315.5 L402.1 313.4 L404.1 311.2 L406.0 309.0 L407.7 306.8 L409.1 304.7 L410.4 302.5 L411.6 300.2 L412.8 297.7 L414.0 295.0 L415.3 292.1 L416.6 289.0 L417.8 285.8 L419.0 282.4 L420.1 278.8 L421.0 275.0 L421.8 270.8 L422.5 266.1 L423.2 261.2 L423.6 256.4 L423.9 251.9 L424.0 248.0 L423.8 244.8 L423.4 242.1 L422.7 239.7 L422.0 237.4 L421.2 235.3 L420.5 233.0 L419.9 230.6 L419.2 228.2 L418.6 225.9 L417.8 223.6 L416.9 221.5 L415.8 219.6 L414.6 218.0 L413.5 216.7 L412.2 215.5 L410.5 214.4 L408.3 213.0 L405.4 211.2 L401.5 209.1 L396.8 206.6 L391.5 203.9 L386.0 201.2 L380.5 198.5 L375.4 196.0 L370.5 193.6 L365.4 191.2 L360.5 188.9 L355.7 186.7 L351.3 184.7 L347.5 183.0 L344.3 181.6 L341.6 180.4 L339.3 179.4 L337.2 178.6 L335.3 177.8 L333.3 177.0 L331.4 176.2 L329.6 175.6 L327.9 175.0 L326.3 174.4 L324.7 173.8 L323.0 173.0 L321.2 172.0 L319.4 170.9 L317.6 169.7 L315.9 168.6 L314.1 167.5 L312.5 166.7 L311.0 166.0 L309.5 165.4 L308.1 164.9 L306.7 164.5 L305.4 164.4 L304.0 164.6 L302.6 165.1 L301.2 165.8 L299.8 166.8 L298.4 168.0 L297.0 169.3 L295.8 170.8 L294.7 172.5Z" fill="#f8f840" filter="url(#b1)"/>
<path d="M297.4 206.7 L296.1 207.3 L294.4 207.9 L292.2 208.6 L289.4 209.6 L286.0 210.7 L282.3 212.0 L278.7 213.3 L275.6 214.6 L272.7 215.9 L270.0 217.3 L267.4 218.8 L264.8 220.5 L262.6 222.2 L260.8 223.8 L259.1 225.3 L257.2 227.0 L255.2 228.8 L253.0 230.9 L250.9 233.1 L249.0 235.4 L247.1 237.8 L245.4 240.3 L243.7 242.8 L242.1 245.5 L240.7 248.2 L239.4 250.8 L238.1 253.5 L236.7 256.5 L235.3 259.7 L233.8 263.1 L232.4 266.4 L231.2 269.6 L230.1 272.9 L229.0 276.3 L228.1 279.8 L226.9 283.3 L226.0 286.8 L225.2 290.3 L224.5 293.8 L223.8 297.3 L223.3 300.8 L222.9 304.3 L222.6 307.7 L222.3 311.1 L222.1 314.6 L222.1 318.4 L222.5 322.3 L223.1 326.2 L224.0 329.9 L225.3 333.8 L227.1 337.7 L229.3 341.5 L231.8 344.9 L234.2 348.1 L236.6 350.9 L239.0 353.7 L241.7 356.8 L245.1 360.0 L249.2 363.0 L253.7 365.5 L258.2 367.5 L262.5 369.2 L266.6 370.4 L270.6 371.5 L274.7 372.2 L278.9 372.7 L283.1 372.8 L287.3 372.5 L291.4 371.9 L295.4 371.0 L299.5 369.9 L304.0 368.4 L308.4 366.6 L312.5 364.9 L316.3 363.3 L319.7 361.8 L322.9 360.3 L325.9 358.8 L328.7 357.4 L331.5 355.9 L334.6 354.4 L337.7 352.7 L341.0 351.0 L344.2 349.1 L347.4 347.2 L350.5 345.3 L353.5 343.4 L356.4 341.6 L359.5 339.7 L362.8 337.6 L366.1 335.2 L369.5 332.7 L372.8 330.0 L376.1 327.3 L379.2 324.7 L382.1 322.2 L385.0 319.6 L387.9 317.0 L390.7 314.3 L393.4 311.5 L396.3 308.6 L399.2 305.3 L402.1 301.6 L404.5 297.7 L406.3 294.0 L407.7 290.8 L408.8 287.8 L410.0 284.9 L411.1 281.9 L412.1 278.9 L413.0 275.8 L413.9 272.6 L414.8 269.1 L415.6 265.2 L416.2 261.1 L416.4 256.9 L416.4 253.0 L416.2 249.2 L415.9 245.6 L415.3 242.2 L414.6 238.9 L413.8 235.9 L413.0 233.1 L412.1 230.3 L411.0 227.4 L409.7 224.3 L408.1 221.1 L406.3 218.1 L404.4 215.4 L402.4 212.8 L400.3 210.4 L398.1 208.1 L395.8 205.9 L393.4 203.8 L390.8 201.9 L388.2 200.1 L385.3 198.1 L382.0 196.2 L378.3 194.3 L374.3 192.7 L370.6 191.5 L367.3 190.5 L364.4 189.7 L361.6 188.7 L358.4 187.5 L354.8 186.3 L350.9 185.2 L347.2 184.4 L343.4 183.7 L339.0 183.2 L334.0 183.2 L328.8 183.8 L323.6 184.7 L319.1 185.7 L315.5 186.7 L309.5 189.8 L329.4 190.8 L333.1 195.6 L306.1 196.3 L306.9 194.6 L306.1 195.7 L304.9 197.2 L303.8 198.7 L302.8 200.1 L301.8 201.5 L300.7 203.0 L299.4 205.0 L298.7 206.2 L297.4 206.7ZM301.5 204.9 L301.4 205.1 L300.7 205.4 L301.5 204.9Z" fill="#f8d444" filter="url(#b1)"/>
<path d="M327.5 185.8 L324.5 185.5 L321.6 185.3 L319.0 185.3 L316.7 185.4 L314.8 185.7 L313.2 186.2 L311.9 186.8 L310.6 187.5 L309.5 188.5 L308.3 189.6 L307.1 191.0 L306.0 192.6 L305.0 194.4 L304.0 196.3 L303.0 198.2 L302.0 200.0 L301.0 201.8 L300.1 203.5 L299.2 205.3 L298.2 207.1 L297.1 208.8 L296.0 210.2 L295.1 210.5 L292.9 211.2 L290.1 212.1 L286.6 213.2 L282.9 214.4 L279.5 215.6 L276.4 216.8 L273.7 218.1 L271.0 219.4 L268.5 220.9 L266.1 222.4 L264.0 224.0 L262.2 225.6 L260.5 227.1 L258.6 228.7 L256.6 230.5 L254.5 232.4 L252.4 234.6 L250.5 236.8 L248.7 239.1 L247.0 241.5 L245.4 244.0 L243.8 246.5 L242.4 249.1 L241.1 251.7 L239.8 254.4 L238.4 257.4 L236.9 260.5 L235.4 263.8 L234.0 267.1 L232.8 270.3 L231.6 273.5 L230.6 276.8 L229.6 280.2 L228.6 283.7 L227.7 287.2 L226.9 290.6 L226.3 294.0 L225.7 297.5 L225.2 300.9 L224.8 304.4 L224.5 307.8 L224.3 311.1 L224.2 314.5 L224.2 318.2 L224.6 322.0 L225.2 325.6 L226.1 329.2 L227.4 332.9 L229.1 336.6 L231.2 340.1 L233.6 343.4 L236.0 346.4 L238.4 349.2 L240.8 352.0 L243.5 354.9 L246.7 358.0 L250.6 360.8 L254.8 363.2 L259.1 365.1 L263.3 366.6 L267.3 367.9 L271.1 368.8 L275.0 369.5 L279.0 369.9 L282.9 370.0 L286.9 369.8 L290.8 369.2 L294.7 368.3 L298.6 367.2 L302.9 365.7 L307.2 364.0 L311.3 362.2 L315.0 360.6 L318.4 359.1 L321.6 357.6 L324.5 356.2 L327.3 354.7 L330.2 353.2 L333.2 351.7 L336.4 350.1 L339.6 348.4 L342.8 346.5 L345.9 344.7 L349.0 342.8 L352.0 340.9 L354.9 339.1 L358.0 337.2 L361.2 335.1 L364.5 332.9 L367.8 330.4 L371.1 327.8 L374.4 325.2 L377.4 322.6 L380.4 320.1 L383.2 317.6 L386.1 315.0 L388.8 312.3 L391.6 309.6 L394.4 306.7 L397.3 303.6 L400.0 300.1 L402.2 296.4 L404.0 292.9 L405.3 289.8 L406.5 286.8 L407.6 284.0 L408.7 281.1 L409.7 278.2 L410.5 275.2 L411.4 272.0 L412.3 268.5 L413.0 264.8 L413.6 260.9 L413.8 256.9 L413.7 253.1 L413.5 249.5 L413.2 246.0 L412.7 242.7 L412.0 239.6 L411.2 236.7 L410.4 234.0 L409.5 231.3 L408.4 228.4 L407.2 225.5 L405.7 222.5 L404.0 219.7 L402.2 217.1 L400.2 214.6 L398.2 212.3 L396.2 210.1 L393.9 208.0 L391.6 206.1 L389.2 204.2 L386.6 202.4 L383.8 200.6 L380.7 198.7 L377.1 196.9 L373.4 195.5 L369.7 194.3 L366.4 193.3 L363.5 192.4 L360.7 191.4 L357.5 190.3 L353.9 189.1 L350.2 188.1 L346.7 187.3 L343.0 186.6 L338.9 186.2 L334.2 186.2 L332.4 186.4 L330.4 186.1 L327.5 185.8Z" fill="#f8b040" filter="url(#b1)"/>
<path d="M321.6 195.9 L319.2 196.2 L317.4 196.7 L316.2 197.3 L315.3 198.1 L315.1 198.4 L310.7 198.5 L311.0 197.8 L310.1 199.0 L309.0 200.5 L307.8 201.9 L306.8 203.3 L305.8 204.6 L304.8 206.0 L303.6 207.7 L302.4 209.8 L302.4 210.0 L301.8 210.2 L300.2 210.8 L298.8 211.3 L297.4 211.8 L295.6 212.4 L293.4 213.1 L290.5 214.0 L287.1 215.0 L283.4 216.1 L280.0 217.3 L277.1 218.5 L274.3 219.7 L271.8 221.0 L269.3 222.3 L267.0 223.8 L265.0 225.4 L263.2 226.9 L261.5 228.3 L259.6 229.9 L257.6 231.7 L255.6 233.6 L253.6 235.7 L251.7 237.8 L249.9 240.1 L248.2 242.4 L246.6 244.8 L245.1 247.3 L243.7 249.8 L242.4 252.4 L241.0 255.1 L239.6 258.0 L238.1 261.1 L236.6 264.4 L235.2 267.7 L234.0 270.8 L232.8 273.9 L231.7 277.2 L230.8 280.5 L229.8 283.9 L229.0 287.4 L228.2 290.8 L227.6 294.2 L227.0 297.6 L226.6 301.1 L226.3 304.5 L226.0 307.8 L225.8 311.1 L225.7 314.5 L225.8 318.1 L226.1 321.7 L226.8 325.2 L227.7 328.7 L228.9 332.2 L230.5 335.7 L232.6 339.1 L234.9 342.3 L237.3 345.3 L239.7 348.0 L242.1 350.7 L244.7 353.6 L247.9 356.5 L251.6 359.2 L255.6 361.4 L259.8 363.3 L263.9 364.8 L267.8 366.0 L271.5 366.9 L275.3 367.6 L279.0 367.9 L282.9 368.0 L286.7 367.7 L290.4 367.2 L294.1 366.3 L298.0 365.3 L302.1 363.8 L306.4 362.1 L310.4 360.3 L314.1 358.7 L317.5 357.1 L320.6 355.7 L323.5 354.2 L326.4 352.7 L329.3 351.3 L332.3 349.8 L335.4 348.2 L338.6 346.5 L341.7 344.7 L344.8 342.8 L347.9 341.0 L350.9 339.1 L353.9 337.3 L356.9 335.4 L360.1 333.4 L363.3 331.2 L366.6 328.7 L369.9 326.2 L373.1 323.6 L376.2 321.0 L379.1 318.5 L381.9 316.0 L384.8 313.5 L387.5 310.9 L390.2 308.2 L393.0 305.4 L395.8 302.3 L398.4 299.0 L400.6 295.5 L402.3 292.1 L403.6 289.0 L404.7 286.1 L405.9 283.3 L406.9 280.5 L407.8 277.6 L408.7 274.7 L409.5 271.5 L410.4 268.1 L411.1 264.5 L411.6 260.7 L411.8 256.9 L411.8 253.2 L411.6 249.6 L411.2 246.3 L410.7 243.1 L410.1 240.1 L409.3 237.3 L408.5 234.7 L407.6 232.0 L406.6 229.2 L405.3 226.3 L403.9 223.5 L402.3 220.8 L400.5 218.3 L398.7 215.9 L396.7 213.7 L394.7 211.6 L392.6 209.6 L390.3 207.7 L388.0 205.9 L385.5 204.2 L382.7 202.4 L379.7 200.6 L376.3 198.9 L372.7 197.5 L369.1 196.3 L365.8 195.4 L362.9 194.5 L360.0 193.4 L356.8 192.3 L353.3 191.2 L349.7 190.2 L346.3 189.4 L342.7 188.8 L338.8 188.4 L334.4 188.3 L329.6 188.9 L324.7 189.8 L320.4 190.8 L317.1 191.7 L312.8 193.8 L325.8 194.6 L326.8 195.7 L324.4 195.8 L321.6 195.9Z" fill="#f86840" filter="url(#b05)"/>
<path d="M313.8 196.7 L312.9 197.9 L312.1 199.3 L312.0 199.5 L311.5 200.1 L310.3 201.6 L309.2 203.1 L308.2 204.4 L307.2 205.7 L306.2 207.1 L305.0 208.7 L304.2 210.1 L304.0 210.4 L303.1 211.5 L302.4 211.8 L300.7 212.4 L299.3 212.9 L297.8 213.4 L296.0 213.9 L293.8 214.6 L290.9 215.5 L287.5 216.5 L283.8 217.6 L280.5 218.7 L277.6 219.9 L274.9 221.0 L272.4 222.2 L270.0 223.6 L267.8 225.0 L265.8 226.5 L264.0 227.9 L262.3 229.4 L260.5 230.9 L258.5 232.7 L256.4 234.5 L254.5 236.6 L252.6 238.7 L250.9 240.8 L249.2 243.1 L247.6 245.5 L246.1 247.9 L244.7 250.4 L243.4 253.0 L242.0 255.6 L240.6 258.5 L239.1 261.6 L237.6 264.9 L236.2 268.1 L234.9 271.2 L233.8 274.3 L232.7 277.5 L231.8 280.8 L230.8 284.2 L230.0 287.6 L229.3 291.0 L228.7 294.4 L228.2 297.7 L227.7 301.1 L227.4 304.5 L227.2 307.9 L227.0 311.1 L226.9 314.5 L227.0 318.0 L227.4 321.5 L228.0 324.9 L228.9 328.3 L230.1 331.7 L231.7 335.0 L233.7 338.3 L236.0 341.4 L238.4 344.3 L240.7 347.0 L243.1 349.7 L245.8 352.5 L248.8 355.3 L252.4 357.9 L256.3 360.0 L260.4 361.8 L264.4 363.2 L268.2 364.4 L271.8 365.3 L275.5 365.9 L279.1 366.3 L282.8 366.3 L286.5 366.1 L290.1 365.5 L293.7 364.7 L297.4 363.6 L301.5 362.2 L305.7 360.5 L309.7 358.7 L313.3 357.1 L316.7 355.6 L319.8 354.1 L322.7 352.6 L325.6 351.1 L328.5 349.7 L331.5 348.2 L334.6 346.6 L337.7 344.9 L340.9 343.1 L343.9 341.3 L347.0 339.5 L350.0 337.6 L353.0 335.8 L356.0 333.9 L359.1 331.9 L362.3 329.8 L365.6 327.4 L368.9 324.8 L372.1 322.2 L375.1 319.7 L378.0 317.3 L380.9 314.8 L383.7 312.3 L386.4 309.7 L389.1 307.1 L391.9 304.3 L394.6 301.3 L397.2 298.1 L399.2 294.7 L400.9 291.5 L402.2 288.4 L403.3 285.6 L404.4 282.8 L405.4 280.0 L406.3 277.2 L407.2 274.3 L408.0 271.2 L408.8 267.8 L409.5 264.3 L410.0 260.6 L410.2 256.9 L410.2 253.3 L410.0 249.8 L409.6 246.5 L409.1 243.4 L408.5 240.5 L407.7 237.8 L406.9 235.2 L406.0 232.5 L405.0 229.8 L403.8 227.1 L402.4 224.3 L400.9 221.7 L399.2 219.3 L397.4 217.0 L395.5 214.9 L393.5 212.8 L391.5 210.9 L389.3 209.1 L387.0 207.3 L384.5 205.6 L381.8 203.8 L378.9 202.1 L375.6 200.5 L372.1 199.1 L368.6 198.0 L365.4 197.0 L362.4 196.1 L359.4 195.1 L356.2 194.0 L352.8 192.8 L349.3 191.9 L345.9 191.1 L342.5 190.5 L338.7 190.1 L334.5 190.1 L329.9 190.6 L325.1 191.5 L320.8 192.5 L317.6 193.4 L313.9 195.2 L315.7 195.3 L315.1 195.6 L313.8 196.7Z" fill="#f81830" filter="url(#b05)"/>
<path d="M316.5 198.3 L321.9 198.8 L323.2 200.3 L316.0 201.0 L315.6 201.3 L314.6 202.6 L313.4 204.1 L312.3 205.5 L311.3 206.8 L310.3 208.2 L309.3 209.5 L308.3 210.9 L307.4 212.3 L306.9 213.4 L306.8 213.8 L306.7 214.0 L306.1 214.3 L305.0 214.8 L303.5 215.3 L301.9 215.9 L300.3 216.4 L298.8 216.9 L296.9 217.4 L294.7 218.1 L291.8 218.9 L288.3 219.8 L284.8 220.8 L281.5 221.9 L278.7 222.9 L276.1 224.0 L273.8 225.1 L271.5 226.3 L269.4 227.6 L267.6 228.9 L265.9 230.3 L264.2 231.7 L262.3 233.2 L260.3 234.9 L258.4 236.6 L256.5 238.5 L254.7 240.5 L253.0 242.6 L251.4 244.7 L249.8 247.0 L248.3 249.3 L247.0 251.7 L245.6 254.2 L244.3 256.8 L242.8 259.7 L241.3 262.7 L239.7 265.9 L238.3 269.0 L237.1 272.1 L235.9 275.1 L234.8 278.2 L233.9 281.4 L233.0 284.7 L232.3 288.0 L231.6 291.4 L231.1 294.7 L230.6 298.0 L230.3 301.3 L230.0 304.7 L229.8 307.9 L229.7 311.2 L229.7 314.4 L229.8 317.7 L230.2 321.0 L230.8 324.2 L231.7 327.3 L232.9 330.4 L234.4 333.5 L236.2 336.5 L238.4 339.4 L240.8 342.1 L243.1 344.7 L245.5 347.3 L248.1 350.0 L251.0 352.6 L254.2 354.9 L257.8 356.9 L261.6 358.5 L265.5 359.9 L269.1 361.0 L272.5 361.8 L275.9 362.3 L279.3 362.6 L282.6 362.7 L286.0 362.4 L289.3 361.9 L292.7 361.1 L296.2 360.1 L300.1 358.7 L304.1 357.0 L308.0 355.2 L311.7 353.5 L314.9 352.0 L318.0 350.5 L320.9 349.0 L323.8 347.6 L326.7 346.1 L329.7 344.6 L332.8 343.1 L335.9 341.5 L338.9 339.7 L342.0 338.0 L345.0 336.1 L348.0 334.3 L351.0 332.5 L354.0 330.7 L357.0 328.7 L360.2 326.6 L363.4 324.3 L366.6 321.8 L369.8 319.3 L372.8 316.9 L375.7 314.5 L378.5 312.1 L381.3 309.6 L383.9 307.1 L386.6 304.5 L389.4 301.8 L392.0 299.0 L394.3 296.0 L396.2 293.0 L397.8 290.0 L399.0 287.1 L400.2 284.3 L401.2 281.6 L402.2 278.9 L403.0 276.2 L403.8 273.4 L404.6 270.3 L405.4 267.1 L406.1 263.7 L406.5 260.3 L406.7 256.9 L406.6 253.4 L406.4 250.1 L406.1 247.0 L405.6 244.1 L405.0 241.4 L404.3 238.8 L403.5 236.3 L402.6 233.8 L401.6 231.2 L400.5 228.7 L399.2 226.2 L397.8 223.8 L396.2 221.6 L394.5 219.4 L392.7 217.4 L390.9 215.5 L389.0 213.8 L386.9 212.1 L384.7 210.4 L382.4 208.8 L379.8 207.1 L377.0 205.5 L374.0 204.0 L370.8 202.7 L367.5 201.7 L364.3 200.7 L361.2 199.8 L358.1 198.8 L355.0 197.7 L351.7 196.6 L348.4 195.7 L345.2 195.0 L341.9 194.4 L338.5 194.1 L334.7 194.1 L330.5 194.6 L325.9 195.4 L321.8 196.4 L318.8 197.2 L316.5 198.3Z" fill="#a81018" filter="url(#b05)"/>
<path d="M319.0 201.4 L319.1 201.7 L319.6 202.1 L319.6 202.7 L318.8 203.8 L317.7 205.1 L316.5 206.6 L315.4 208.0 L314.4 209.3 L313.3 210.6 L312.4 211.8 L311.5 213.0 L310.9 214.1 L310.4 215.2 L309.8 216.1 L309.0 217.0 L307.8 217.7 L306.3 218.3 L304.7 218.9 L303.0 219.4 L301.4 219.9 L299.7 220.4 L297.9 220.9 L295.6 221.5 L292.6 222.3 L289.2 223.1 L285.7 224.1 L282.5 225.0 L279.8 225.9 L277.4 226.9 L275.1 227.9 L273.0 229.0 L271.1 230.1 L269.4 231.3 L267.7 232.6 L266.0 234.0 L264.1 235.5 L262.2 237.1 L260.3 238.7 L258.5 240.5 L256.8 242.4 L255.1 244.3 L253.5 246.4 L252.0 248.5 L250.6 250.7 L249.2 253.0 L247.9 255.4 L246.5 258.0 L245.0 260.8 L243.4 263.8 L241.9 266.9 L240.5 270.0 L239.2 273.0 L238.0 275.9 L236.9 278.9 L236.0 282.0 L235.2 285.2 L234.5 288.4 L234.0 291.7 L233.5 295.0 L233.1 298.3 L232.8 301.5 L232.6 304.8 L232.5 308.0 L232.4 311.2 L232.4 314.3 L232.6 317.5 L233.0 320.5 L233.6 323.5 L234.5 326.4 L235.6 329.2 L237.0 332.0 L238.8 334.7 L240.8 337.4 L243.1 340.0 L245.5 342.5 L247.9 345.0 L250.4 347.6 L253.1 349.9 L256.0 352.0 L259.3 353.8 L262.9 355.2 L266.5 356.5 L270.0 357.5 L273.2 358.2 L276.3 358.8 L279.4 359.0 L282.5 359.0 L285.6 358.8 L288.6 358.2 L291.7 357.5 L295.0 356.5 L298.6 355.1 L302.5 353.5 L306.4 351.7 L310.0 350.0 L313.2 348.5 L316.2 347.0 L319.1 345.5 L322.0 344.0 L325.0 342.5 L328.0 341.1 L331.0 339.6 L334.0 338.0 L337.0 336.3 L340.0 334.6 L343.0 332.8 L346.0 331.0 L349.0 329.2 L352.0 327.4 L355.0 325.5 L358.0 323.5 L361.1 321.3 L364.3 318.9 L367.5 316.4 L370.5 314.0 L373.4 311.6 L376.2 309.3 L378.9 306.9 L381.5 304.5 L384.2 302.0 L386.8 299.3 L389.3 296.7 L391.5 294.0 L393.2 291.3 L394.7 288.5 L395.9 285.7 L397.0 283.0 L398.0 280.4 L398.9 277.8 L399.7 275.3 L400.5 272.5 L401.3 269.5 L402.0 266.4 L402.6 263.2 L403.0 260.0 L403.1 256.8 L403.1 253.6 L402.8 250.4 L402.5 247.5 L402.1 244.8 L401.5 242.3 L400.8 239.9 L400.0 237.5 L399.2 235.1 L398.2 232.6 L397.2 230.3 L396.0 228.0 L394.7 225.9 L393.2 223.8 L391.7 221.9 L390.0 220.0 L388.3 218.3 L386.5 216.6 L384.6 215.1 L382.5 213.5 L380.2 211.9 L377.8 210.3 L375.2 208.8 L372.5 207.5 L369.6 206.4 L366.4 205.4 L363.2 204.5 L360.0 203.5 L356.9 202.4 L353.8 201.3 L350.6 200.3 L347.5 199.5 L344.4 198.8 L341.4 198.3 L338.3 198.0 L335.0 198.0 L331.1 198.5 L326.7 199.3 L322.8 200.2 L320.0 201.0 L319.0 201.4Z" fill="#402828" filter="url(#b05)"/>
<path d="M300.3 162.3L303.6 164.1L303.6 167.6L300.3 169.4L297.1 167.6L297.1 164.1Z" fill="#a8f840"/><path d="M306.6 162.3L309.9 164.1L309.9 167.6L306.6 169.4L303.4 167.6L303.4 164.1Z" fill="#f8f840"/><path d="M312.9 162.3L316.2 164.1L316.2 167.6L312.9 169.4L309.7 167.6L309.7 164.1Z" fill="#a8f840"/><path d="M297.2 167.5L300.4 169.2L300.4 172.8L297.2 174.5L294.0 172.8L294.0 169.2Z" fill="#f8f840"/><path d="M303.5 167.5L306.7 169.2L306.7 172.8L303.5 174.5L300.3 172.8L300.3 169.2Z" fill="#f8f840"/><path d="M309.8 167.5L313.0 169.2L313.0 172.8L309.8 174.5L306.6 172.8L306.6 169.2Z" fill="#f8f840"/><path d="M316.1 167.5L319.3 169.2L319.3 172.8L316.1 174.5L312.9 172.8L312.9 169.2Z" fill="#f8f840"/><path d="M294.0 172.6L297.3 174.4L297.3 177.9L294.0 179.7L290.8 177.9L290.8 174.4Z" fill="#f8f840"/><path d="M300.3 172.6L303.6 174.4L303.6 177.9L300.3 179.7L297.1 177.9L297.1 174.4Z" fill="#f8f840"/><path d="M306.6 172.6L309.9 174.4L309.9 177.9L306.6 179.7L303.4 177.9L303.4 174.4Z" fill="#f8f840"/><path d="M312.9 172.6L316.2 174.4L316.2 177.9L312.9 179.7L309.7 177.9L309.7 174.4Z" fill="#f8f840"/><path d="M319.2 172.6L322.5 174.4L322.5 177.9L319.2 179.7L316.0 177.9L316.0 174.4Z" fill="#f8f840"/><path d="M325.5 172.6L328.8 174.4L328.8 177.9L325.5 179.7L322.3 177.9L322.3 174.4Z" fill="#f8f840"/><path d="M331.8 172.6L335.1 174.4L335.1 177.9L331.8 179.7L328.6 177.9L328.6 174.4Z" fill="#a8f840"/><path d="M290.9 177.8L294.1 179.5L294.1 183.1L290.9 184.8L287.7 183.1L287.7 179.5Z" fill="#f8f840"/><path d="M297.2 177.8L300.4 179.5L300.4 183.1L297.2 184.8L294.0 183.1L294.0 179.5Z" fill="#f8f840"/><path d="M303.5 177.8L306.7 179.5L306.7 183.1L303.5 184.8L300.3 183.1L300.3 179.5Z" fill="#f8f840"/><path d="M309.8 177.8L313.0 179.5L313.0 183.1L309.8 184.8L306.6 183.1L306.6 179.5Z" fill="#f8f840"/><path d="M316.1 177.8L319.3 179.5L319.3 183.1L316.1 184.8L312.9 183.1L312.9 179.5Z" fill="#f8f840"/><path d="M322.4 177.8L325.6 179.5L325.6 183.1L322.4 184.8L319.2 183.1L319.2 179.5Z" fill="#f8f840"/><path d="M328.7 177.8L331.9 179.5L331.9 183.1L328.7 184.8L325.5 183.1L325.5 179.5Z" fill="#f8f840"/><path d="M335.0 177.8L338.2 179.5L338.2 183.1L335.0 184.8L331.8 183.1L331.8 179.5Z" fill="#f8f840"/><path d="M341.3 177.8L344.5 179.5L344.5 183.1L341.3 184.8L338.1 183.1L338.1 179.5Z" fill="#f8f840"/><path d="M287.8 182.9L291.0 184.7L291.0 188.2L287.8 190.0L284.5 188.2L284.5 184.7Z" fill="#a8f840"/><path d="M294.0 182.9L297.3 184.7L297.3 188.2L294.0 190.0L290.8 188.2L290.8 184.7Z" fill="#f8f840"/><path d="M300.3 182.9L303.6 184.7L303.6 188.2L300.3 190.0L297.1 188.2L297.1 184.7Z" fill="#f8f840"/><path d="M306.6 182.9L309.9 184.7L309.9 188.2L306.6 190.0L303.4 188.2L303.4 184.7Z" fill="#f8f840"/><path d="M312.9 182.9L316.2 184.7L316.2 188.2L312.9 190.0L309.7 188.2L309.7 184.7Z" fill="#f8b040"/><path d="M319.2 182.9L322.5 184.7L322.5 188.2L319.2 190.0L316.0 188.2L316.0 184.7Z" fill="#f8b040"/><path d="M325.5 182.9L328.8 184.7L328.8 188.2L325.5 190.0L322.3 188.2L322.3 184.7Z" fill="#f8b040"/><path d="M331.8 182.9L335.1 184.7L335.1 188.2L331.8 190.0L328.6 188.2L328.6 184.7Z" fill="#f8b040"/><path d="M338.1 182.9L341.4 184.7L341.4 188.2L338.1 190.0L334.9 188.2L334.9 184.7Z" fill="#f8b040"/><path d="M344.4 182.9L347.7 184.7L347.7 188.2L344.4 190.0L341.2 188.2L341.2 184.7Z" fill="#f8b040"/><path d="M350.8 182.9L354.0 184.7L354.0 188.2L350.8 190.0L347.5 188.2L347.5 184.7Z" fill="#f8d444"/><path d="M357.0 182.9L360.3 184.7L360.3 188.2L357.0 190.0L353.8 188.2L353.8 184.7Z" fill="#a8f840"/><path d="M290.9 188.1L294.1 189.8L294.1 193.4L290.9 195.1L287.7 193.4L287.7 189.8Z" fill="#f8f840"/><path d="M297.2 188.1L300.4 189.8L300.4 193.4L297.2 195.1L294.0 193.4L294.0 189.8Z" fill="#f8f840"/><path d="M303.5 188.1L306.7 189.8L306.7 193.4L303.5 195.1L300.3 193.4L300.3 189.8Z" fill="#f8f840"/><path d="M309.8 188.1L313.0 189.8L313.0 193.4L309.8 195.1L306.6 193.4L306.6 189.8Z" fill="#f8b040"/><path d="M316.1 188.1L319.3 189.8L319.3 193.4L316.1 195.1L312.9 193.4L312.9 189.8Z" fill="#f86840"/><path d="M322.4 188.1L325.6 189.8L325.6 193.4L322.4 195.1L319.2 193.4L319.2 189.8Z" fill="#f81830"/><path d="M328.7 188.1L331.9 189.8L331.9 193.4L328.7 195.1L325.5 193.4L325.5 189.8Z" fill="#f81830"/><path d="M335.0 188.1L338.2 189.8L338.2 193.4L335.0 195.1L331.8 193.4L331.8 189.8Z" fill="#f81830"/><path d="M341.3 188.1L344.5 189.8L344.5 193.4L341.3 195.1L338.1 193.4L338.1 189.8Z" fill="#f81830"/><path d="M347.6 188.1L350.8 189.8L350.8 193.4L347.6 195.1L344.4 193.4L344.4 189.8Z" fill="#f81830"/><path d="M353.9 188.1L357.1 189.8L357.1 193.4L353.9 195.1L350.7 193.4L350.7 189.8Z" fill="#f86840"/><path d="M360.2 188.1L363.4 189.8L363.4 193.4L360.2 195.1L357.0 193.4L357.0 189.8Z" fill="#f8b040"/><path d="M366.5 188.1L369.7 189.8L369.7 193.4L366.5 195.1L363.3 193.4L363.3 189.8Z" fill="#f8d444"/><path d="M287.8 193.2L291.0 195.0L291.0 198.5L287.8 200.3L284.5 198.5L284.5 195.0Z" fill="#f8f840"/><path d="M294.0 193.2L297.3 195.0L297.3 198.5L294.0 200.3L290.8 198.5L290.8 195.0Z" fill="#f8f840"/><path d="M300.3 193.2L303.6 195.0L303.6 198.5L300.3 200.3L297.1 198.5L297.1 195.0Z" fill="#f8f840"/><path d="M306.6 193.2L309.9 195.0L309.9 198.5L306.6 200.3L303.4 198.5L303.4 195.0Z" fill="#f8b040"/><path d="M312.9 193.2L316.2 195.0L316.2 198.5L312.9 200.3L309.7 198.5L309.7 195.0Z" fill="#f8b040"/><path d="M319.2 193.2L322.5 195.0L322.5 198.5L319.2 200.3L316.0 198.5L316.0 195.0Z" fill="#a81018"/><path d="M325.5 193.2L328.8 195.0L328.8 198.5L325.5 200.3L322.3 198.5L322.3 195.0Z" fill="#a81018"/><path d="M331.8 193.2L335.1 195.0L335.1 198.5L331.8 200.3L328.6 198.5L328.6 195.0Z" fill="#a81018"/><path d="M338.1 193.2L341.4 195.0L341.4 198.5L338.1 200.3L334.9 198.5L334.9 195.0Z" fill="#a81018"/><path d="M344.4 193.2L347.7 195.0L347.7 198.5L344.4 200.3L341.2 198.5L341.2 195.0Z" fill="#a81018"/><path d="M350.8 193.2L354.0 195.0L354.0 198.5L350.8 200.3L347.5 198.5L347.5 195.0Z" fill="#a81018"/><path d="M357.0 193.2L360.3 195.0L360.3 198.5L357.0 200.3L353.8 198.5L353.8 195.0Z" fill="#f81830"/><path d="M363.3 193.2L366.6 195.0L366.6 198.5L363.3 200.3L360.1 198.5L360.1 195.0Z" fill="#f81830"/><path d="M369.6 193.2L372.9 195.0L372.9 198.5L369.6 200.3L366.4 198.5L366.4 195.0Z" fill="#f86840"/><path d="M375.9 193.2L379.2 195.0L379.2 198.5L375.9 200.3L372.7 198.5L372.7 195.0Z" fill="#f8b040"/><path d="M284.6 198.4L287.8 200.1L287.8 203.7L284.6 205.4L281.4 203.7L281.4 200.1Z" fill="#f8f840"/><path d="M290.9 198.4L294.1 200.1L294.1 203.7L290.9 205.4L287.7 203.7L287.7 200.1Z" fill="#f8f840"/><path d="M297.2 198.4L300.4 200.1L300.4 203.7L297.2 205.4L294.0 203.7L294.0 200.1Z" fill="#f8f840"/><path d="M303.5 198.4L306.7 200.1L306.7 203.7L303.5 205.4L300.3 203.7L300.3 200.1Z" fill="#f8b040"/><path d="M309.8 198.4L313.0 200.1L313.0 203.7L309.8 205.4L306.6 203.7L306.6 200.1Z" fill="#f81830"/><path d="M316.1 198.4L319.3 200.1L319.3 203.7L316.1 205.4L312.9 203.7L312.9 200.1Z" fill="#a81018"/><path d="M360.2 198.4L363.4 200.1L363.4 203.7L360.2 205.4L357.0 203.7L357.0 200.1Z" fill="#a81018"/><path d="M366.5 198.4L369.7 200.1L369.7 203.7L366.5 205.4L363.3 203.7L363.3 200.1Z" fill="#a81018"/><path d="M372.8 198.4L376.0 200.1L376.0 203.7L372.8 205.4L369.6 203.7L369.6 200.1Z" fill="#f81830"/><path d="M379.1 198.4L382.3 200.1L382.3 203.7L379.1 205.4L375.9 203.7L375.9 200.1Z" fill="#f81830"/><path d="M385.4 198.4L388.6 200.1L388.6 203.7L385.4 205.4L382.2 203.7L382.2 200.1Z" fill="#f8b040"/><path d="M281.4 203.5L284.7 205.3L284.7 208.8L281.4 210.6L278.2 208.8L278.2 205.3Z" fill="#f8f840"/><path d="M287.8 203.5L291.0 205.3L291.0 208.8L287.8 210.6L284.5 208.8L284.5 205.3Z" fill="#f8f840"/><path d="M294.0 203.5L297.3 205.3L297.3 208.8L294.0 210.6L290.8 208.8L290.8 205.3Z" fill="#f8f840"/><path d="M300.3 203.5L303.6 205.3L303.6 208.8L300.3 210.6L297.1 208.8L297.1 205.3Z" fill="#f8b040"/><path d="M306.6 203.5L309.9 205.3L309.9 208.8L306.6 210.6L303.4 208.8L303.4 205.3Z" fill="#f81830"/><path d="M312.9 203.5L316.2 205.3L316.2 208.8L312.9 210.6L309.7 208.8L309.7 205.3Z" fill="#a81018"/><path d="M375.9 203.5L379.2 205.3L379.2 208.8L375.9 210.6L372.7 208.8L372.7 205.3Z" fill="#a81018"/><path d="M382.2 203.5L385.5 205.3L385.5 208.8L382.2 210.6L379.0 208.8L379.0 205.3Z" fill="#f81830"/><path d="M388.5 203.5L391.8 205.3L391.8 208.8L388.5 210.6L385.3 208.8L385.3 205.3Z" fill="#f86840"/><path d="M394.8 203.5L398.1 205.3L398.1 208.8L394.8 210.6L391.6 208.8L391.6 205.3Z" fill="#f8d444"/><path d="M278.3 208.7L281.5 210.4L281.5 214.0L278.3 215.7L275.1 214.0L275.1 210.4Z" fill="#f8f840"/><path d="M284.6 208.7L287.8 210.4L287.8 214.0L284.6 215.7L281.4 214.0L281.4 210.4Z" fill="#f8d444"/><path d="M290.9 208.7L294.1 210.4L294.1 214.0L290.9 215.7L287.7 214.0L287.7 210.4Z" fill="#f8b040"/><path d="M297.2 208.7L300.4 210.4L300.4 214.0L297.2 215.7L294.0 214.0L294.0 210.4Z" fill="#f86840"/><path d="M303.5 208.7L306.7 210.4L306.7 214.0L303.5 215.7L300.3 214.0L300.3 210.4Z" fill="#f81830"/><path d="M309.8 208.7L313.0 210.4L313.0 214.0L309.8 215.7L306.6 214.0L306.6 210.4Z" fill="#a81018"/><path d="M385.4 208.7L388.6 210.4L388.6 214.0L385.4 215.7L382.2 214.0L382.2 210.4Z" fill="#a81018"/><path d="M391.7 208.7L394.9 210.4L394.9 214.0L391.7 215.7L388.5 214.0L388.5 210.4Z" fill="#f81830"/><path d="M398.0 208.7L401.2 210.4L401.2 214.0L398.0 215.7L394.8 214.0L394.8 210.4Z" fill="#f8b040"/><path d="M404.3 208.7L407.5 210.4L407.5 214.0L404.3 215.7L401.1 214.0L401.1 210.4Z" fill="#f8f840"/><path d="M275.1 213.8L278.4 215.6L278.4 219.1L275.1 220.9L271.9 219.1L271.9 215.6Z" fill="#f8b040"/><path d="M281.4 213.8L284.7 215.6L284.7 219.1L281.4 220.9L278.2 219.1L278.2 215.6Z" fill="#f86840"/><path d="M287.8 213.8L291.0 215.6L291.0 219.1L287.8 220.9L284.5 219.1L284.5 215.6Z" fill="#f81830"/><path d="M294.0 213.8L297.3 215.6L297.3 219.1L294.0 220.9L290.8 219.1L290.8 215.6Z" fill="#f81830"/><path d="M300.3 213.8L303.6 215.6L303.6 219.1L300.3 220.9L297.1 219.1L297.1 215.6Z" fill="#a81018"/><path d="M306.6 213.8L309.9 215.6L309.9 219.1L306.6 220.9L303.4 219.1L303.4 215.6Z" fill="#a81018"/><path d="M388.5 213.8L391.8 215.6L391.8 219.1L388.5 220.9L385.3 219.1L385.3 215.6Z" fill="#a81018"/><path d="M394.8 213.8L398.1 215.6L398.1 219.1L394.8 220.9L391.6 219.1L391.6 215.6Z" fill="#f81830"/><path d="M401.1 213.8L404.4 215.6L404.4 219.1L401.1 220.9L397.9 219.1L397.9 215.6Z" fill="#f8b040"/><path d="M407.4 213.8L410.7 215.6L410.7 219.1L407.4 220.9L404.2 219.1L404.2 215.6Z" fill="#f8f840"/><path d="M413.8 213.8L417.0 215.6L417.0 219.1L413.8 220.9L410.5 219.1L410.5 215.6Z" fill="#f8f840"/><path d="M265.7 219.0L268.9 220.7L268.9 224.3L265.7 226.0L262.5 224.3L262.5 220.7Z" fill="#f8b040"/><path d="M272.0 219.0L275.2 220.7L275.2 224.3L272.0 226.0L268.8 224.3L268.8 220.7Z" fill="#f81830"/><path d="M278.3 219.0L281.5 220.7L281.5 224.3L278.3 226.0L275.1 224.3L275.1 220.7Z" fill="#a81018"/><path d="M284.6 219.0L287.8 220.7L287.8 224.3L284.6 226.0L281.4 224.3L281.4 220.7Z" fill="#a81018"/><path d="M290.9 219.0L294.1 220.7L294.1 224.3L290.9 226.0L287.7 224.3L287.7 220.7Z" fill="#a81018"/><path d="M398.0 219.0L401.2 220.7L401.2 224.3L398.0 226.0L394.8 224.3L394.8 220.7Z" fill="#f81830"/><path d="M404.3 219.0L407.5 220.7L407.5 224.3L404.3 226.0L401.1 224.3L401.1 220.7Z" fill="#f86840"/><path d="M410.6 219.0L413.8 220.7L413.8 224.3L410.6 226.0L407.4 224.3L407.4 220.7Z" fill="#f8f840"/><path d="M416.9 219.0L420.1 220.7L420.1 224.3L416.9 226.0L413.7 224.3L413.7 220.7Z" fill="#f8f840"/><path d="M262.5 224.1L265.8 225.9L265.8 229.4L262.5 231.2L259.3 229.4L259.3 225.9Z" fill="#f86840"/><path d="M268.8 224.1L272.1 225.9L272.1 229.4L268.8 231.2L265.6 229.4L265.6 225.9Z" fill="#a81018"/><path d="M275.1 224.1L278.4 225.9L278.4 229.4L275.1 231.2L271.9 229.4L271.9 225.9Z" fill="#a81018"/><path d="M401.1 224.1L404.4 225.9L404.4 229.4L401.1 231.2L397.9 229.4L397.9 225.9Z" fill="#f81830"/><path d="M407.4 224.1L410.7 225.9L410.7 229.4L407.4 231.2L404.2 229.4L404.2 225.9Z" fill="#f8b040"/><path d="M413.8 224.1L417.0 225.9L417.0 229.4L413.8 231.2L410.5 229.4L410.5 225.9Z" fill="#f8f840"/><path d="M420.0 224.1L423.3 225.9L423.3 229.4L420.0 231.2L416.8 229.4L416.8 225.9Z" fill="#a8f840"/><path d="M259.4 229.3L262.6 231.0L262.6 234.6L259.4 236.3L256.2 234.6L256.2 231.0Z" fill="#f81830"/><path d="M265.7 229.3L268.9 231.0L268.9 234.6L265.7 236.3L262.5 234.6L262.5 231.0Z" fill="#a81018"/><path d="M404.3 229.3L407.5 231.0L407.5 234.6L404.3 236.3L401.1 234.6L401.1 231.0Z" fill="#f81830"/><path d="M410.6 229.3L413.8 231.0L413.8 234.6L410.6 236.3L407.4 234.6L407.4 231.0Z" fill="#f8b040"/><path d="M416.9 229.3L420.1 231.0L420.1 234.6L416.9 236.3L413.7 234.6L413.7 231.0Z" fill="#f8f840"/><path d="M249.9 234.4L253.2 236.2L253.2 239.7L249.9 241.5L246.7 239.7L246.7 236.2Z" fill="#f8b040"/><path d="M256.2 234.4L259.5 236.2L259.5 239.7L256.2 241.5L253.0 239.7L253.0 236.2Z" fill="#f81830"/><path d="M401.1 234.4L404.4 236.2L404.4 239.7L401.1 241.5L397.9 239.7L397.9 236.2Z" fill="#a81018"/><path d="M407.4 234.4L410.7 236.2L410.7 239.7L407.4 241.5L404.2 239.7L404.2 236.2Z" fill="#f81830"/><path d="M413.8 234.4L417.0 236.2L417.0 239.7L413.8 241.5L410.5 239.7L410.5 236.2Z" fill="#f8d444"/><path d="M420.0 234.4L423.3 236.2L423.3 239.7L420.0 241.5L416.8 239.7L416.8 236.2Z" fill="#f8f840"/><path d="M246.8 239.6L250.0 241.3L250.0 244.9L246.8 246.6L243.6 244.9L243.6 241.3Z" fill="#f8b040"/><path d="M253.1 239.6L256.3 241.3L256.3 244.9L253.1 246.6L249.9 244.9L249.9 241.3Z" fill="#a81018"/><path d="M404.3 239.6L407.5 241.3L407.5 244.9L404.3 246.6L401.1 244.9L401.1 241.3Z" fill="#a81018"/><path d="M410.6 239.6L413.8 241.3L413.8 244.9L410.6 246.6L407.4 244.9L407.4 241.3Z" fill="#f86840"/><path d="M416.9 239.6L420.1 241.3L420.1 244.9L416.9 246.6L413.7 244.9L413.7 241.3Z" fill="#f8f840"/><path d="M423.2 239.6L426.4 241.3L426.4 244.9L423.2 246.6L420.0 244.9L420.0 241.3Z" fill="#f8f840"/><path d="M243.6 244.7L246.9 246.5L246.9 250.0L243.6 251.8L240.4 250.0L240.4 246.5Z" fill="#f8b040"/><path d="M249.9 244.7L253.2 246.5L253.2 250.0L249.9 251.8L246.7 250.0L246.7 246.5Z" fill="#a81018"/><path d="M407.4 244.7L410.7 246.5L410.7 250.0L407.4 251.8L404.2 250.0L404.2 246.5Z" fill="#f81830"/><path d="M413.8 244.7L417.0 246.5L417.0 250.0L413.8 251.8L410.5 250.0L410.5 246.5Z" fill="#f8b040"/><path d="M420.0 244.7L423.3 246.5L423.3 250.0L420.0 251.8L416.8 250.0L416.8 246.5Z" fill="#f8f840"/><path d="M240.5 249.9L243.7 251.6L243.7 255.2L240.5 256.9L237.3 255.2L237.3 251.6Z" fill="#f8b040"/><path d="M246.8 249.9L250.0 251.6L250.0 255.2L246.8 256.9L243.6 255.2L243.6 251.6Z" fill="#a81018"/><path d="M404.3 249.9L407.5 251.6L407.5 255.2L404.3 256.9L401.1 255.2L401.1 251.6Z" fill="#a81018"/><path d="M410.6 249.9L413.8 251.6L413.8 255.2L410.6 256.9L407.4 255.2L407.4 251.6Z" fill="#f81830"/><path d="M416.9 249.9L420.1 251.6L420.1 255.2L416.9 256.9L413.7 255.2L413.7 251.6Z" fill="#f8f840"/><path d="M423.2 249.9L426.4 251.6L426.4 255.2L423.2 256.9L420.0 255.2L420.0 251.6Z" fill="#f8f840"/><path d="M237.3 255.0L240.6 256.8L240.6 260.3L237.3 262.1L234.1 260.3L234.1 256.8Z" fill="#f8b040"/><path d="M243.6 255.0L246.9 256.8L246.9 260.3L243.6 262.1L240.4 260.3L240.4 256.8Z" fill="#a81018"/><path d="M407.4 255.0L410.7 256.8L410.7 260.3L407.4 262.1L404.2 260.3L404.2 256.8Z" fill="#f81830"/><path d="M413.8 255.0L417.0 256.8L417.0 260.3L413.8 262.1L410.5 260.3L410.5 256.8Z" fill="#f8b040"/><path d="M420.0 255.0L423.3 256.8L423.3 260.3L420.0 262.1L416.8 260.3L416.8 256.8Z" fill="#f8f840"/><path d="M240.5 260.2L243.7 261.9L243.7 265.5L240.5 267.2L237.3 265.5L237.3 261.9Z" fill="#a81018"/><path d="M404.3 260.2L407.5 261.9L407.5 265.5L404.3 267.2L401.1 265.5L401.1 261.9Z" fill="#a81018"/><path d="M410.6 260.2L413.8 261.9L413.8 265.5L410.6 267.2L407.4 265.5L407.4 261.9Z" fill="#f81830"/><path d="M416.9 260.2L420.1 261.9L420.1 265.5L416.9 267.2L413.7 265.5L413.7 261.9Z" fill="#f8f840"/><path d="M423.2 260.2L426.4 261.9L426.4 265.5L423.2 267.2L420.0 265.5L420.0 261.9Z" fill="#a8f840"/><path d="M237.3 265.3L240.6 267.1L240.6 270.6L237.3 272.4L234.1 270.6L234.1 267.1Z" fill="#f81830"/><path d="M407.4 265.3L410.7 267.1L410.7 270.6L407.4 272.4L404.2 270.6L404.2 267.1Z" fill="#f81830"/><path d="M413.8 265.3L417.0 267.1L417.0 270.6L413.8 272.4L410.5 270.6L410.5 267.1Z" fill="#f8d444"/><path d="M420.0 265.3L423.3 267.1L423.3 270.6L420.0 272.4L416.8 270.6L416.8 267.1Z" fill="#f8f840"/><path d="M234.2 270.5L237.4 272.2L237.4 275.8L234.2 277.5L231.0 275.8L231.0 272.2Z" fill="#f81830"/><path d="M404.3 270.5L407.5 272.2L407.5 275.8L404.3 277.5L401.1 275.8L401.1 272.2Z" fill="#a81018"/><path d="M410.6 270.5L413.8 272.2L413.8 275.8L410.6 277.5L407.4 275.8L407.4 272.2Z" fill="#f8b040"/><path d="M416.9 270.5L420.1 272.2L420.1 275.8L416.9 277.5L413.7 275.8L413.7 272.2Z" fill="#f8f840"/><path d="M231.0 275.6L234.3 277.4L234.3 280.9L231.0 282.7L227.8 280.9L227.8 277.4Z" fill="#f86840"/><path d="M401.1 275.6L404.4 277.4L404.4 280.9L401.1 282.7L397.9 280.9L397.9 277.4Z" fill="#a81018"/><path d="M407.4 275.6L410.7 277.4L410.7 280.9L407.4 282.7L404.2 280.9L404.2 277.4Z" fill="#f86840"/><path d="M413.8 275.6L417.0 277.4L417.0 280.9L413.8 282.7L410.5 280.9L410.5 277.4Z" fill="#f8f840"/><path d="M420.0 275.6L423.3 277.4L423.3 280.9L420.0 282.7L416.8 280.9L416.8 277.4Z" fill="#a8f840"/><path d="M234.2 280.8L237.4 282.5L237.4 286.1L234.2 287.8L231.0 286.1L231.0 282.5Z" fill="#a81018"/><path d="M398.0 280.8L401.2 282.5L401.2 286.1L398.0 287.8L394.8 286.1L394.8 282.5Z" fill="#a81018"/><path d="M404.3 280.8L407.5 282.5L407.5 286.1L404.3 287.8L401.1 286.1L401.1 282.5Z" fill="#f81830"/><path d="M410.6 280.8L413.8 282.5L413.8 286.1L410.6 287.8L407.4 286.1L407.4 282.5Z" fill="#f8d444"/><path d="M416.9 280.8L420.1 282.5L420.1 286.1L416.9 287.8L413.7 286.1L413.7 282.5Z" fill="#f8f840"/><path d="M231.0 285.9L234.3 287.7L234.3 291.2L231.0 293.0L227.8 291.2L227.8 287.7Z" fill="#f81830"/><path d="M394.8 285.9L398.1 287.7L398.1 291.2L394.8 293.0L391.6 291.2L391.6 287.7Z" fill="#a81018"/><path d="M401.1 285.9L404.4 287.7L404.4 291.2L401.1 293.0L397.9 291.2L397.9 287.7Z" fill="#f81830"/><path d="M407.4 285.9L410.7 287.7L410.7 291.2L407.4 293.0L404.2 291.2L404.2 287.7Z" fill="#f8d444"/><path d="M413.8 285.9L417.0 287.7L417.0 291.2L413.8 293.0L410.5 291.2L410.5 287.7Z" fill="#f8f840"/><path d="M227.9 291.1L231.1 292.8L231.1 296.4L227.9 298.1L224.7 296.4L224.7 292.8Z" fill="#f81830"/><path d="M391.7 291.1L394.9 292.8L394.9 296.4L391.7 298.1L388.5 296.4L388.5 292.8Z" fill="#a81018"/><path d="M398.0 291.1L401.2 292.8L401.2 296.4L398.0 298.1L394.8 296.4L394.8 292.8Z" fill="#f81830"/><path d="M404.3 291.1L407.5 292.8L407.5 296.4L404.3 298.1L401.1 296.4L401.1 292.8Z" fill="#f8d444"/><path d="M410.6 291.1L413.8 292.8L413.8 296.4L410.6 298.1L407.4 296.4L407.4 292.8Z" fill="#f8f840"/><path d="M224.8 296.2L228.0 298.0L228.0 301.5L224.8 303.3L221.5 301.5L221.5 298.0Z" fill="#f8d444"/><path d="M231.0 296.2L234.3 298.0L234.3 301.5L231.0 303.3L227.8 301.5L227.8 298.0Z" fill="#a81018"/><path d="M388.5 296.2L391.8 298.0L391.8 301.5L388.5 303.3L385.3 301.5L385.3 298.0Z" fill="#a81018"/><path d="M394.8 296.2L398.1 298.0L398.1 301.5L394.8 303.3L391.6 301.5L391.6 298.0Z" fill="#f81830"/><path d="M401.1 296.2L404.4 298.0L404.4 301.5L401.1 303.3L397.9 301.5L397.9 298.0Z" fill="#f8d444"/><path d="M407.4 296.2L410.7 298.0L410.7 301.5L407.4 303.3L404.2 301.5L404.2 298.0Z" fill="#f8f840"/><path d="M227.9 301.4L231.1 303.1L231.1 306.7L227.9 308.4L224.7 306.7L224.7 303.1Z" fill="#f81830"/><path d="M385.4 301.4L388.6 303.1L388.6 306.7L385.4 308.4L382.2 306.7L382.2 303.1Z" fill="#a81018"/><path d="M391.7 301.4L394.9 303.1L394.9 306.7L391.7 308.4L388.5 306.7L388.5 303.1Z" fill="#f81830"/><path d="M398.0 301.4L401.2 303.1L401.2 306.7L398.0 308.4L394.8 306.7L394.8 303.1Z" fill="#f8d444"/><path d="M404.3 301.4L407.5 303.1L407.5 306.7L404.3 308.4L401.1 306.7L401.1 303.1Z" fill="#f8f840"/><path d="M224.8 306.5L228.0 308.3L228.0 311.8L224.8 313.6L221.5 311.8L221.5 308.3Z" fill="#f8b040"/><path d="M231.0 306.5L234.3 308.3L234.3 311.8L231.0 313.6L227.8 311.8L227.8 308.3Z" fill="#a81018"/><path d="M375.9 306.5L379.2 308.3L379.2 311.8L375.9 313.6L372.7 311.8L372.7 308.3Z" fill="#a81018"/><path d="M382.2 306.5L385.5 308.3L385.5 311.8L382.2 313.6L379.0 311.8L379.0 308.3Z" fill="#f81830"/><path d="M388.5 306.5L391.8 308.3L391.8 311.8L388.5 313.6L385.3 311.8L385.3 308.3Z" fill="#f86840"/><path d="M394.8 306.5L398.1 308.3L398.1 311.8L394.8 313.6L391.6 311.8L391.6 308.3Z" fill="#f8d444"/><path d="M401.1 306.5L404.4 308.3L404.4 311.8L401.1 313.6L397.9 311.8L397.9 308.3Z" fill="#f8f840"/><path d="M227.9 311.7L231.1 313.4L231.1 317.0L227.9 318.7L224.7 317.0L224.7 313.4Z" fill="#f81830"/><path d="M372.8 311.7L376.0 313.4L376.0 317.0L372.8 318.7L369.6 317.0L369.6 313.4Z" fill="#a81018"/><path d="M379.1 311.7L382.3 313.4L382.3 317.0L379.1 318.7L375.9 317.0L375.9 313.4Z" fill="#f81830"/><path d="M385.4 311.7L388.6 313.4L388.6 317.0L385.4 318.7L382.2 317.0L382.2 313.4Z" fill="#f8b040"/><path d="M391.7 311.7L394.9 313.4L394.9 317.0L391.7 318.7L388.5 317.0L388.5 313.4Z" fill="#f8f840"/><path d="M398.0 311.7L401.2 313.4L401.2 317.0L398.0 318.7L394.8 317.0L394.8 313.4Z" fill="#f8f840"/><path d="M224.8 316.8L228.0 318.6L228.0 322.1L224.8 323.9L221.5 322.1L221.5 318.6Z" fill="#f8b040"/><path d="M231.0 316.8L234.3 318.6L234.3 322.1L231.0 323.9L227.8 322.1L227.8 318.6Z" fill="#a81018"/><path d="M363.3 316.8L366.6 318.6L366.6 322.1L363.3 323.9L360.1 322.1L360.1 318.6Z" fill="#a81018"/><path d="M369.6 316.8L372.9 318.6L372.9 322.1L369.6 323.9L366.4 322.1L366.4 318.6Z" fill="#a81018"/><path d="M375.9 316.8L379.2 318.6L379.2 322.1L375.9 323.9L372.7 322.1L372.7 318.6Z" fill="#f81830"/><path d="M382.2 316.8L385.5 318.6L385.5 322.1L382.2 323.9L379.0 322.1L379.0 318.6Z" fill="#f8d444"/><path d="M388.5 316.8L391.8 318.6L391.8 322.1L388.5 323.9L385.3 322.1L385.3 318.6Z" fill="#f8f840"/><path d="M394.8 316.8L398.1 318.6L398.1 322.1L394.8 323.9L391.6 322.1L391.6 318.6Z" fill="#a8f840"/><path d="M227.9 322.0L231.1 323.7L231.1 327.3L227.9 329.0L224.7 327.3L224.7 323.7Z" fill="#f81830"/><path d="M234.2 322.0L237.4 323.7L237.4 327.3L234.2 329.0L231.0 327.3L231.0 323.7Z" fill="#a81018"/><path d="M360.2 322.0L363.4 323.7L363.4 327.3L360.2 329.0L357.0 327.3L357.0 323.7Z" fill="#a81018"/><path d="M366.5 322.0L369.7 323.7L369.7 327.3L366.5 329.0L363.3 327.3L363.3 323.7Z" fill="#f81830"/><path d="M372.8 322.0L376.0 323.7L376.0 327.3L372.8 329.0L369.6 327.3L369.6 323.7Z" fill="#f8b040"/><path d="M379.1 322.0L382.3 323.7L382.3 327.3L379.1 329.0L375.9 327.3L375.9 323.7Z" fill="#f8f840"/><path d="M385.4 322.0L388.6 323.7L388.6 327.3L385.4 329.0L382.2 327.3L382.2 323.7Z" fill="#a8f840"/><path d="M224.8 327.1L228.0 328.9L228.0 332.4L224.8 334.2L221.5 332.4L221.5 328.9Z" fill="#f8d444"/><path d="M231.0 327.1L234.3 328.9L234.3 332.4L231.0 334.2L227.8 332.4L227.8 328.9Z" fill="#f81830"/><path d="M350.8 327.1L354.0 328.9L354.0 332.4L350.8 334.2L347.5 332.4L347.5 328.9Z" fill="#a81018"/><path d="M357.0 327.1L360.3 328.9L360.3 332.4L357.0 334.2L353.8 332.4L353.8 328.9Z" fill="#f81830"/><path d="M363.3 327.1L366.6 328.9L366.6 332.4L363.3 334.2L360.1 332.4L360.1 328.9Z" fill="#f86840"/><path d="M369.6 327.1L372.9 328.9L372.9 332.4L369.6 334.2L366.4 332.4L366.4 328.9Z" fill="#f8d444"/><path d="M375.9 327.1L379.2 328.9L379.2 332.4L375.9 334.2L372.7 332.4L372.7 328.9Z" fill="#a8f840"/><path d="M227.9 332.3L231.1 334.0L231.1 337.6L227.9 339.3L224.7 337.6L224.7 334.0Z" fill="#f8d444"/><path d="M234.2 332.3L237.4 334.0L237.4 337.6L234.2 339.3L231.0 337.6L231.0 334.0Z" fill="#f81830"/><path d="M341.3 332.3L344.5 334.0L344.5 337.6L341.3 339.3L338.1 337.6L338.1 334.0Z" fill="#a81018"/><path d="M347.6 332.3L350.8 334.0L350.8 337.6L347.6 339.3L344.4 337.6L344.4 334.0Z" fill="#f81830"/><path d="M353.9 332.3L357.1 334.0L357.1 337.6L353.9 339.3L350.7 337.6L350.7 334.0Z" fill="#f81830"/><path d="M360.2 332.3L363.4 334.0L363.4 337.6L360.2 339.3L357.0 337.6L357.0 334.0Z" fill="#f8b040"/><path d="M366.5 332.3L369.7 334.0L369.7 337.6L366.5 339.3L363.3 337.6L363.3 334.0Z" fill="#a8f840"/><path d="M231.0 337.4L234.3 339.2L234.3 342.7L231.0 344.5L227.8 342.7L227.8 339.2Z" fill="#f8b040"/><path d="M237.3 337.4L240.6 339.2L240.6 342.7L237.3 344.5L234.1 342.7L234.1 339.2Z" fill="#f81830"/><path d="M243.6 337.4L246.9 339.2L246.9 342.7L243.6 344.5L240.4 342.7L240.4 339.2Z" fill="#a81018"/><path d="M331.8 337.4L335.1 339.2L335.1 342.7L331.8 344.5L328.6 342.7L328.6 339.2Z" fill="#a81018"/><path d="M338.1 337.4L341.4 339.2L341.4 342.7L338.1 344.5L334.9 342.7L334.9 339.2Z" fill="#a81018"/><path d="M344.4 337.4L347.7 339.2L347.7 342.7L344.4 344.5L341.2 342.7L341.2 339.2Z" fill="#f81830"/><path d="M350.8 337.4L354.0 339.2L354.0 342.7L350.8 344.5L347.5 342.7L347.5 339.2Z" fill="#f8b040"/><path d="M357.0 337.4L360.3 339.2L360.3 342.7L357.0 344.5L353.8 342.7L353.8 339.2Z" fill="#f8d444"/><path d="M234.2 342.6L237.4 344.3L237.4 347.9L234.2 349.6L231.0 347.9L231.0 344.3Z" fill="#f8d444"/><path d="M240.5 342.6L243.7 344.3L243.7 347.9L240.5 349.6L237.3 347.9L237.3 344.3Z" fill="#f81830"/><path d="M246.8 342.6L250.0 344.3L250.0 347.9L246.8 349.6L243.6 347.9L243.6 344.3Z" fill="#a81018"/><path d="M322.4 342.6L325.6 344.3L325.6 347.9L322.4 349.6L319.2 347.9L319.2 344.3Z" fill="#a81018"/><path d="M328.7 342.6L331.9 344.3L331.9 347.9L328.7 349.6L325.5 347.9L325.5 344.3Z" fill="#f81830"/><path d="M335.0 342.6L338.2 344.3L338.2 347.9L335.0 349.6L331.8 347.9L331.8 344.3Z" fill="#f81830"/><path d="M341.3 342.6L344.5 344.3L344.5 347.9L341.3 349.6L338.1 347.9L338.1 344.3Z" fill="#f8b040"/><path d="M347.6 342.6L350.8 344.3L350.8 347.9L347.6 349.6L344.4 347.9L344.4 344.3Z" fill="#f8d444"/><path d="M237.3 347.7L240.6 349.5L240.6 353.0L237.3 354.8L234.1 353.0L234.1 349.5Z" fill="#f8d444"/><path d="M243.6 347.7L246.9 349.5L246.9 353.0L243.6 354.8L240.4 353.0L240.4 349.5Z" fill="#f81830"/><path d="M249.9 347.7L253.2 349.5L253.2 353.0L249.9 354.8L246.7 353.0L246.7 349.5Z" fill="#a81018"/><path d="M312.9 347.7L316.2 349.5L316.2 353.0L312.9 354.8L309.7 353.0L309.7 349.5Z" fill="#a81018"/><path d="M319.2 347.7L322.5 349.5L322.5 353.0L319.2 354.8L316.0 353.0L316.0 349.5Z" fill="#f81830"/><path d="M325.5 347.7L328.8 349.5L328.8 353.0L325.5 354.8L322.3 353.0L322.3 349.5Z" fill="#f81830"/><path d="M331.8 347.7L335.1 349.5L335.1 353.0L331.8 354.8L328.6 353.0L328.6 349.5Z" fill="#f8b040"/><path d="M338.1 347.7L341.4 349.5L341.4 353.0L338.1 354.8L334.9 353.0L334.9 349.5Z" fill="#f8d444"/><path d="M344.4 347.7L347.7 349.5L347.7 353.0L344.4 354.8L341.2 353.0L341.2 349.5Z" fill="#f8f840"/><path d="M240.5 352.9L243.7 354.6L243.7 358.2L240.5 359.9L237.3 358.2L237.3 354.6Z" fill="#f8f840"/><path d="M246.8 352.9L250.0 354.6L250.0 358.2L246.8 359.9L243.6 358.2L243.6 354.6Z" fill="#f86840"/><path d="M253.1 352.9L256.3 354.6L256.3 358.2L253.1 359.9L249.9 358.2L249.9 354.6Z" fill="#f81830"/><path d="M259.4 352.9L262.6 354.6L262.6 358.2L259.4 359.9L256.2 358.2L256.2 354.6Z" fill="#a81018"/><path d="M265.7 352.9L268.9 354.6L268.9 358.2L265.7 359.9L262.5 358.2L262.5 354.6Z" fill="#a81018"/><path d="M297.2 352.9L300.4 354.6L300.4 358.2L297.2 359.9L294.0 358.2L294.0 354.6Z" fill="#a81018"/><path d="M303.5 352.9L306.7 354.6L306.7 358.2L303.5 359.9L300.3 358.2L300.3 354.6Z" fill="#a81018"/><path d="M309.8 352.9L313.0 354.6L313.0 358.2L309.8 359.9L306.6 358.2L306.6 354.6Z" fill="#f81830"/><path d="M316.1 352.9L319.3 354.6L319.3 358.2L316.1 359.9L312.9 358.2L312.9 354.6Z" fill="#f81830"/><path d="M322.4 352.9L325.6 354.6L325.6 358.2L322.4 359.9L319.2 358.2L319.2 354.6Z" fill="#f8b040"/><path d="M328.7 352.9L331.9 354.6L331.9 358.2L328.7 359.9L325.5 358.2L325.5 354.6Z" fill="#f8d444"/><path d="M335.0 352.9L338.2 354.6L338.2 358.2L335.0 359.9L331.8 358.2L331.8 354.6Z" fill="#f8f840"/><path d="M249.9 358.0L253.2 359.8L253.2 363.3L249.9 365.1L246.7 363.3L246.7 359.8Z" fill="#f8d444"/><path d="M256.2 358.0L259.5 359.8L259.5 363.3L256.2 365.1L253.0 363.3L253.0 359.8Z" fill="#f86840"/><path d="M262.5 358.0L265.8 359.8L265.8 363.3L262.5 365.1L259.3 363.3L259.3 359.8Z" fill="#f81830"/><path d="M268.8 358.0L272.1 359.8L272.1 363.3L268.8 365.1L265.6 363.3L265.6 359.8Z" fill="#a81018"/><path d="M275.1 358.0L278.4 359.8L278.4 363.3L275.1 365.1L271.9 363.3L271.9 359.8Z" fill="#a81018"/><path d="M281.4 358.0L284.7 359.8L284.7 363.3L281.4 365.1L278.2 363.3L278.2 359.8Z" fill="#a81018"/><path d="M287.8 358.0L291.0 359.8L291.0 363.3L287.8 365.1L284.5 363.3L284.5 359.8Z" fill="#a81018"/><path d="M294.0 358.0L297.3 359.8L297.3 363.3L294.0 365.1L290.8 363.3L290.8 359.8Z" fill="#f81830"/><path d="M300.3 358.0L303.6 359.8L303.6 363.3L300.3 365.1L297.1 363.3L297.1 359.8Z" fill="#f81830"/><path d="M306.6 358.0L309.9 359.8L309.9 363.3L306.6 365.1L303.4 363.3L303.4 359.8Z" fill="#f86840"/><path d="M312.9 358.0L316.2 359.8L316.2 363.3L312.9 365.1L309.7 363.3L309.7 359.8Z" fill="#f8b040"/><path d="M319.2 358.0L322.5 359.8L322.5 363.3L319.2 365.1L316.0 363.3L316.0 359.8Z" fill="#f8d444"/><path d="M325.5 358.0L328.8 359.8L328.8 363.3L325.5 365.1L322.3 363.3L322.3 359.8Z" fill="#f8f840"/><path d="M253.1 363.2L256.3 364.9L256.3 368.5L253.1 370.2L249.9 368.5L249.9 364.9Z" fill="#a8f840"/><path d="M259.4 363.2L262.6 364.9L262.6 368.5L259.4 370.2L256.2 368.5L256.2 364.9Z" fill="#f8d444"/><path d="M265.7 363.2L268.9 364.9L268.9 368.5L265.7 370.2L262.5 368.5L262.5 364.9Z" fill="#f8b040"/><path d="M272.0 363.2L275.2 364.9L275.2 368.5L272.0 370.2L268.8 368.5L268.8 364.9Z" fill="#f86840"/><path d="M278.3 363.2L281.5 364.9L281.5 368.5L278.3 370.2L275.1 368.5L275.1 364.9Z" fill="#f81830"/><path d="M284.6 363.2L287.8 364.9L287.8 368.5L284.6 370.2L281.4 368.5L281.4 364.9Z" fill="#f81830"/><path d="M290.9 363.2L294.1 364.9L294.1 368.5L290.9 370.2L287.7 368.5L287.7 364.9Z" fill="#f86840"/><path d="M297.2 363.2L300.4 364.9L300.4 368.5L297.2 370.2L294.0 368.5L294.0 364.9Z" fill="#f8b040"/><path d="M303.5 363.2L306.7 364.9L306.7 368.5L303.5 370.2L300.3 368.5L300.3 364.9Z" fill="#f8d444"/><path d="M309.8 363.2L313.0 364.9L313.0 368.5L309.8 370.2L306.6 368.5L306.6 364.9Z" fill="#f8f840"/><path d="M316.1 363.2L319.3 364.9L319.3 368.5L316.1 370.2L312.9 368.5L312.9 364.9Z" fill="#f8f840"/><path d="M322.4 363.2L325.6 364.9L325.6 368.5L322.4 370.2L319.2 368.5L319.2 364.9Z" fill="#a8f840"/><path d="M268.8 368.3L272.1 370.1L272.1 373.6L268.8 375.4L265.6 373.6L265.6 370.1Z" fill="#f8f840"/><path d="M275.1 368.3L278.4 370.1L278.4 373.6L275.1 375.4L271.9 373.6L271.9 370.1Z" fill="#f8d444"/><path d="M281.4 368.3L284.7 370.1L284.7 373.6L281.4 375.4L278.2 373.6L278.2 370.1Z" fill="#f8d444"/><path d="M287.8 368.3L291.0 370.1L291.0 373.6L287.8 375.4L284.5 373.6L284.5 370.1Z" fill="#f8d444"/><path d="M294.0 368.3L297.3 370.1L297.3 373.6L294.0 375.4L290.8 373.6L290.8 370.1Z" fill="#f8f840"/><path d="M300.3 368.3L303.6 370.1L303.6 373.6L300.3 375.4L297.1 373.6L297.1 370.1Z" fill="#f8f840"/><path d="M306.6 368.3L309.9 370.1L309.9 373.6L306.6 375.4L303.4 373.6L303.4 370.1Z" fill="#f8f840"/><path d="M312.9 368.3L316.2 370.1L316.2 373.6L312.9 375.4L309.7 373.6L309.7 370.1Z" fill="#a8f840"/><path d="M284.6 373.5L287.8 375.2L287.8 378.8L284.6 380.5L281.4 378.8L281.4 375.2Z" fill="#a8f840"/><path d="M290.9 373.5L294.1 375.2L294.1 378.8L290.9 380.5L287.7 378.8L287.7 375.2Z" fill="#a8f840"/><path d="M297.2 373.5L300.4 375.2L300.4 378.8L297.2 380.5L294.0 378.8L294.0 375.2Z" fill="#a8f840"/>
<path d="M320.6 201.9 L320.6 201.9 L320.6 202.0 L320.6 202.1 L320.6 202.7 L320.6 202.8 L320.6 202.9 L320.5 203.0 L320.5 203.1 L320.5 203.2 L320.4 203.3 L319.6 204.4 L319.6 204.4 L318.5 205.8 L318.5 205.8 L317.3 207.2 L316.2 208.6 L315.2 209.9 L315.2 209.9 L314.1 211.2 L313.2 212.4 L312.3 213.6 L311.7 214.6 L311.3 215.6 L311.3 215.6 L310.7 216.6 L310.7 216.7 L310.6 216.8 L310.6 216.8 L309.7 217.7 L309.7 217.8 L309.6 217.8 L309.5 217.9 L308.3 218.6 L308.2 218.6 L306.7 219.2 L306.6 219.3 L305.0 219.8 L305.0 219.8 L303.3 220.4 L303.3 220.4 L301.7 220.9 L301.7 220.9 L300.0 221.3 L300.0 221.3 L298.1 221.8 L295.9 222.5 L295.9 222.5 L292.9 223.2 L292.9 223.2 L289.4 224.1 L285.9 225.0 L282.8 226.0 L280.2 226.9 L277.8 227.8 L275.5 228.8 L273.5 229.9 L271.6 231.0 L270.0 232.1 L268.3 233.4 L266.6 234.8 L266.6 234.8 L264.8 236.3 L262.9 237.8 L261.0 239.5 L259.2 241.2 L257.5 243.0 L255.9 244.9 L254.3 247.0 L252.8 249.1 L251.4 251.2 L250.1 253.5 L248.8 255.9 L247.4 258.5 L245.9 261.3 L244.3 264.3 L242.8 267.4 L241.4 270.4 L240.1 273.4 L239.0 276.3 L237.9 279.2 L237.0 282.3 L236.2 285.4 L235.5 288.6 L235.0 291.9 L234.5 295.1 L234.1 298.4 L233.8 301.6 L233.6 304.8 L233.5 308.0 L233.4 311.2 L233.4 314.3 L233.6 317.4 L234.0 320.3 L234.6 323.2 L235.4 326.1 L236.5 328.8 L237.9 331.5 L239.6 334.1 L241.6 336.7 L243.9 339.3 L246.2 341.8 L248.6 344.3 L251.1 346.8 L253.7 349.1 L256.5 351.1 L259.7 352.8 L263.2 354.3 L266.8 355.5 L270.3 356.5 L273.4 357.3 L276.5 357.8 L279.5 358.0 L282.5 358.0 L285.4 357.8 L288.4 357.3 L291.4 356.5 L294.7 355.6 L298.3 354.2 L302.1 352.6 L306.0 350.8 L309.6 349.1 L312.8 347.6 L315.7 346.1 L318.6 344.6 L318.6 344.6 L321.5 343.1 L321.6 343.1 L324.6 341.6 L324.6 341.6 L327.6 340.2 L330.5 338.7 L333.5 337.1 L336.5 335.5 L339.5 333.7 L342.5 332.0 L345.5 330.1 L345.5 330.1 L348.5 328.4 L351.4 326.6 L354.4 324.7 L357.4 322.7 L360.5 320.5 L363.7 318.1 L366.8 315.6 L369.9 313.2 L372.7 310.9 L375.5 308.6 L378.2 306.2 L380.8 303.8 L383.5 301.2 L386.1 298.6 L388.6 296.0 L390.7 293.4 L392.4 290.8 L393.8 288.1 L395.0 285.3 L396.1 282.6 L397.1 280.0 L398.0 277.5 L398.8 275.0 L399.5 272.2 L400.3 269.3 L401.0 266.2 L401.6 263.0 L402.0 259.9 L402.1 256.8 L402.1 253.6 L401.8 250.5 L401.5 247.6 L401.1 245.0 L400.5 242.6 L399.8 240.2 L399.1 237.8 L398.2 235.4 L397.3 233.0 L396.3 230.7 L395.1 228.5 L393.8 226.4 L392.4 224.4 L390.9 222.5 L389.3 220.7 L387.6 219.0 L385.8 217.4 L384.0 215.8 L381.9 214.3 L379.7 212.7 L377.3 211.2 L374.8 209.7 L372.1 208.4 L369.2 207.3 L366.1 206.3 L362.9 205.4 L362.9 205.4 L359.7 204.5 L359.7 204.4 L356.6 203.4 L356.5 203.4 L353.4 202.3 L350.3 201.3 L347.3 200.5 L344.2 199.8 L341.3 199.3 L338.3 199.0 L335.1 199.0 L331.2 199.5 L327.0 200.3 L323.0 201.2 L320.6 201.9Z" fill="url(#hexp)"/>
<polygon points="303.5,219.1 306.6,220.8 306.6,224.2 303.5,225.9 300.4,224.2 300.4,220.8" fill="#70e850"/><polygon points="309.7,219.1 312.8,220.8 312.8,224.2 309.7,225.9 306.6,224.2 306.6,220.8" fill="#40e8c8"/><polygon points="316.0,219.1 319.1,220.8 319.1,224.2 316.0,225.9 312.9,224.2 312.9,220.8" fill="#60e858"/><polygon points="300.6,224.2 303.8,225.9 303.8,229.3 300.6,231.0 297.5,229.3 297.5,225.9" fill="#40e0d0"/><polygon points="306.8,224.2 309.9,225.9 309.9,229.3 306.8,231.0 303.7,229.3 303.7,225.9" fill="#40b8f0"/><polygon points="313.1,224.2 316.2,225.9 316.2,229.3 313.1,231.0 310.0,229.3 310.0,225.9" fill="#44bcf0"/><polygon points="319.3,224.2 322.4,225.9 322.4,229.3 319.3,231.0 316.2,229.3 316.2,225.9" fill="#50e850"/><polygon points="297.3,229.2 300.4,230.9 300.4,234.3 297.3,236.0 294.2,234.3 294.2,230.9" fill="#c0e840"/><polygon points="303.5,229.2 306.6,230.9 306.6,234.3 303.5,236.0 300.4,234.3 300.4,230.9" fill="#40a8f0"/><polygon points="309.7,229.2 312.8,230.9 312.8,234.3 309.7,236.0 306.6,234.3 306.6,230.9" fill="#3098f0"/><polygon points="316.0,229.2 319.1,230.9 319.1,234.3 316.0,236.0 312.9,234.3 312.9,230.9" fill="#40b8f0"/><polygon points="322.2,229.2 325.3,230.9 325.3,234.3 322.2,236.0 319.1,234.3 319.1,230.9" fill="#f0f040"/><polygon points="300.6,234.2 303.8,236.0 303.8,239.4 300.6,241.1 297.5,239.4 297.5,236.0" fill="#40d8f0"/><polygon points="306.8,234.2 309.9,236.0 309.9,239.4 306.8,241.1 303.7,239.4 303.7,236.0" fill="#3090f0"/><polygon points="313.1,234.2 316.2,236.0 316.2,239.4 313.1,241.1 310.0,239.4 310.0,236.0" fill="#40b8f0"/><polygon points="319.3,234.2 322.4,236.0 322.4,239.4 319.3,241.1 316.2,239.4 316.2,236.0" fill="#88e840"/><polygon points="297.3,239.2 300.4,241.0 300.4,244.4 297.3,246.1 294.2,244.4 294.2,241.0" fill="#f0e840"/><polygon points="303.5,239.2 306.6,241.0 306.6,244.4 303.5,246.1 300.4,244.4 300.4,241.0" fill="#40e0f0"/><polygon points="309.7,239.2 312.8,241.0 312.8,244.4 309.7,246.1 306.6,244.4 306.6,241.0" fill="#40e0f0"/><polygon points="316.0,239.2 319.1,241.0 319.1,244.4 316.0,246.1 312.9,244.4 312.9,241.0" fill="#50e850"/><polygon points="300.6,244.2 303.8,246.0 303.8,249.4 300.6,251.1 297.5,249.4 297.5,246.0" fill="#c0e840"/><polygon points="306.8,244.2 309.9,246.0 309.9,249.4 306.8,251.1 303.7,249.4 303.7,246.0" fill="#40e8c8"/><polygon points="313.1,244.2 316.2,246.0 316.2,249.4 313.1,251.1 310.0,249.4 310.0,246.0" fill="#d0e840"/>
<polygon points="316.3,262.9 319.4,264.6 319.4,268.0 316.3,269.8 313.2,268.0 313.2,264.6" fill="#f81820"/><polygon points="323.4,262.9 326.5,264.6 326.5,268.0 323.4,269.8 320.2,268.0 320.2,264.6" fill="#f82030"/><polygon points="306.6,266.9 309.8,268.7 309.8,272.1 306.6,273.8 303.5,272.1 303.5,268.7" fill="#f81828"/><polygon points="313.2,267.4 316.3,269.2 316.3,272.6 313.2,274.3 310.1,272.6 310.1,269.2" fill="#f8a040"/><polygon points="319.8,267.9 322.9,269.6 322.9,273.0 319.8,274.8 316.7,273.0 316.7,269.6" fill="#f89840"/><polygon points="325.8,268.2 328.9,270.0 328.9,273.4 325.8,275.1 322.7,273.4 322.7,270.0" fill="#a01818"/><polygon points="298.0,271.8 301.1,273.5 301.1,276.9 298.0,278.6 294.9,276.9 294.9,273.5" fill="#f01820"/><polygon points="304.2,271.4 307.3,273.1 307.3,276.5 304.2,278.2 301.1,276.5 301.1,273.1" fill="#f8a040"/><polygon points="309.9,271.4 313.0,273.1 313.0,276.5 309.9,278.2 306.8,276.5 306.8,273.1" fill="#f8e040"/><polygon points="316.0,271.1 319.1,272.8 319.1,276.2 316.0,277.9 312.9,276.2 312.9,272.8" fill="#f8a040"/><polygon points="322.4,272.6 325.5,274.3 325.5,277.7 322.4,279.4 319.2,277.7 319.2,274.3" fill="#a02020"/><polygon points="290.0,277.6 293.1,279.3 293.1,282.7 290.0,284.4 286.9,282.7 286.9,279.3" fill="#e01818"/><polygon points="295.6,276.2 298.8,277.9 298.8,281.3 295.6,283.1 292.5,281.3 292.5,277.9" fill="#f8e040"/><polygon points="301.3,276.1 304.4,277.8 304.4,281.2 301.3,282.9 298.2,281.2 298.2,277.8" fill="#f8e840"/><polygon points="307.0,276.1 310.1,277.8 310.1,281.2 307.0,282.9 303.9,281.2 303.9,277.8" fill="#f8c040"/><polygon points="312.8,276.1 315.9,277.8 315.9,281.2 312.8,282.9 309.7,281.2 309.7,277.8" fill="#f83040"/><polygon points="318.2,277.1 321.3,278.8 321.3,282.2 318.2,283.9 315.1,282.2 315.1,278.8" fill="#b01818"/><polygon points="287.5,283.8 290.6,285.5 290.6,288.9 287.5,290.6 284.4,288.9 284.4,285.5" fill="#f81020"/><polygon points="293.3,282.8 296.4,284.5 296.4,287.9 293.3,289.6 290.2,287.9 290.2,284.5" fill="#f0f040"/><polygon points="298.5,282.2 301.6,283.9 301.6,287.3 298.5,289.1 295.4,287.3 295.4,283.9" fill="#f8b040"/><polygon points="304.2,281.2 307.3,282.9 307.3,286.3 304.2,288.1 301.1,286.3 301.1,282.9" fill="#f84050"/><polygon points="309.4,280.6 312.5,282.3 312.5,285.7 309.4,287.4 306.2,285.7 306.2,282.3" fill="#f82030"/><polygon points="314.8,282.2 317.9,283.9 317.9,287.3 314.8,289.1 311.7,287.3 311.7,283.9" fill="#c01818"/><polygon points="290.4,288.6 293.5,290.3 293.5,293.7 290.4,295.4 287.2,293.7 287.2,290.3" fill="#c0f040"/><polygon points="295.8,288.2 298.9,289.9 298.9,293.3 295.8,295.1 292.7,293.3 292.7,289.9" fill="#f84048"/><polygon points="301.0,287.4 304.1,289.2 304.1,292.6 301.0,294.3 297.9,292.6 297.9,289.2" fill="#f82838"/><polygon points="306.3,289.1 309.4,290.8 309.4,294.2 306.3,295.9 303.2,294.2 303.2,290.8" fill="#c01818"/><polygon points="311.5,288.1 314.6,289.8 314.6,293.2 311.5,294.9 308.4,293.2 308.4,289.8" fill="#e01020"/><polygon points="287.9,293.9 291.0,295.7 291.0,299.1 287.9,300.8 284.8,299.1 284.8,295.7" fill="#50f040"/><polygon points="293.3,293.6 296.4,295.3 296.4,298.7 293.3,300.4 290.2,298.7 290.2,295.3" fill="#f86048"/><polygon points="298.8,293.2 301.9,294.9 301.9,298.3 298.8,300.1 295.6,298.3 295.6,294.9" fill="#f82030"/><polygon points="304.2,292.2 307.3,293.9 307.3,297.3 304.2,299.1 301.1,297.3 301.1,293.9" fill="#e01020"/><polygon points="310.6,293.8 313.8,295.5 313.8,298.9 310.6,300.6 307.5,298.9 307.5,295.5" fill="#f81828"/><polygon points="315.8,294.2 318.9,295.9 318.9,299.3 315.8,301.1 312.7,299.3 312.7,295.9" fill="#a01818"/><polygon points="285.4,299.4 288.5,301.1 288.5,304.5 285.4,306.2 282.2,304.5 282.2,301.1" fill="#f89048"/><polygon points="290.8,298.6 293.9,300.3 293.9,303.7 290.8,305.4 287.7,303.7 287.7,300.3" fill="#a0f040"/><polygon points="296.7,297.9 299.8,299.7 299.8,303.1 296.7,304.8 293.6,303.1 293.6,299.7" fill="#f84050"/><polygon points="302.0,298.2 305.1,299.9 305.1,303.3 302.0,305.1 298.9,303.3 298.9,299.9" fill="#f83040"/><polygon points="307.5,297.9 310.6,299.7 310.6,303.1 307.5,304.8 304.4,303.1 304.4,299.7" fill="#f84048"/><polygon points="311.4,300.4 314.5,302.1 314.5,305.5 311.4,307.2 308.2,305.5 308.2,302.1" fill="#f8a048"/><polygon points="288.8,303.6 291.9,305.3 291.9,308.7 288.8,310.4 285.6,308.7 285.6,305.3" fill="#90f040"/><polygon points="294.2,302.9 297.3,304.7 297.3,308.1 294.2,309.8 291.1,308.1 291.1,304.7" fill="#f8c040"/><polygon points="299.6,302.2 302.8,303.9 302.8,307.3 299.6,309.1 296.5,307.3 296.5,303.9" fill="#f8a040"/><polygon points="305.0,301.8 308.1,303.5 308.1,306.9 305.0,308.6 301.9,306.9 301.9,303.5" fill="#f89040"/><polygon points="288.3,308.6 291.4,310.3 291.4,313.7 288.3,315.4 285.2,313.7 285.2,310.3" fill="#f0f040"/><polygon points="293.8,307.9 296.9,309.7 296.9,313.1 293.8,314.8 290.6,313.1 290.6,309.7" fill="#f8c040"/><polygon points="299.2,307.4 302.3,309.1 302.3,312.5 299.2,314.2 296.1,312.5 296.1,309.1" fill="#f89040"/><polygon points="304.4,306.8 307.5,308.5 307.5,311.9 304.4,313.6 301.2,311.9 301.2,308.5" fill="#f84050"/><polygon points="287.9,313.6 291.0,315.3 291.0,318.7 287.9,320.4 284.8,318.7 284.8,315.3" fill="#f81020"/><polygon points="293.5,313.2 296.6,314.9 296.6,318.3 293.5,320.1 290.4,318.3 290.4,314.9" fill="#e01020"/>
<path d="M321.4 300.9 L321.9 298.4 L322.3 295.8 L322.8 293.2 L323.2 290.6 L323.7 288.0 L324.1 285.4 L324.5 282.7 L325.0 280.1 L325.4 277.4 L325.9 274.7 L326.3 272.0 L326.8 269.3 L327.2 266.6 L327.6 263.9 L328.1 261.2 L328.5 258.5 L329.0 255.7 L329.4 253.0 L329.8 250.2 L330.2 247.5 L330.7 244.7 L331.1 242.0 L331.5 239.2 L331.9 236.4 L332.3 233.7 L332.7 230.9 L333.1 228.2 L333.5 225.4 L333.9 222.7 L334.3 219.9 L334.7 217.2 L335.1 214.5 L335.5 211.8 L335.8 209.0 L336.2 206.3 L336.6 203.6 L336.9 201.0 L337.3 198.3 L337.7 195.6 L338.0 193.0 L338.3 190.4 L338.7 187.7 L339.0 185.1 L339.3 182.6 L339.7 180.0 L340.0 177.4 L340.3 174.9 L340.6 172.4 L340.9 169.9 L341.2 167.4 L341.5 165.0 L341.7 162.6 L342.0 160.2 L342.3 157.8 L342.6 155.4 L342.8 153.1 L343.1 150.8 L343.3 148.5 L343.5 146.3 L343.8 144.1 L344.0 141.9 L344.2 139.7 L344.4 137.6 L344.6 135.5 L344.8 133.4 L345.0 131.4 L345.2 129.4 L345.3 127.4 L345.5 125.5 L345.7 123.6 L345.8 121.7 L346.0 119.9 L346.1 118.1 L346.2 116.3 L346.3 114.6 L346.5 112.9 L346.6 111.3 L346.7 109.7 L346.7 108.1 L346.8 106.6 L346.9 105.1 L347.0 103.7 L347.0 102.3 L347.1 100.9 L347.1 99.6 L347.2 98.3 L347.2 97.1 L347.2 95.9 L347.2 94.7 L347.2 93.6 L347.2 92.6 L347.2 91.6 L347.2 90.6 L347.2 89.7 L347.1 88.8 L347.1 87.9 L347.0 87.2 L347.0 86.4 L346.9 85.7 L346.8 85.1 L346.7 84.5 L346.7 83.9 L346.6 83.4 L346.5 83.0 L346.3 82.5 L346.2 82.2 L346.1 81.9 L346.0 81.6 L345.8 81.4 L345.7 81.2 L345.5 81.1 L345.3 81.0M321.4 300.9 L323.2 298.9 L324.9 296.9 L326.7 294.9 L328.5 292.8 L330.2 290.8 L332.0 288.7 L333.7 286.6 L335.5 284.5 L337.2 282.3 L339.0 280.2 L340.7 278.0 L342.4 275.9 L344.2 273.7 L345.9 271.5 L347.6 269.3 L349.3 267.1 L351.0 264.9 L352.7 262.7 L354.4 260.4 L356.0 258.2 L357.7 256.0 L359.3 253.7 L360.9 251.5 L362.6 249.2 L364.2 246.9 L365.8 244.7 L367.4 242.4 L368.9 240.2 L370.5 237.9 L372.0 235.6 L373.5 233.4 L375.0 231.1 L376.5 228.8 L378.0 226.6 L379.5 224.3 L380.9 222.1 L382.3 219.9 L383.7 217.6 L385.1 215.4 L386.5 213.2 L387.8 210.9 L389.1 208.7 L390.4 206.5 L391.7 204.4 L393.0 202.2 L394.2 200.0 L395.4 197.9 L396.6 195.7 L397.8 193.6 L398.9 191.5 L400.1 189.4 L401.2 187.3 L402.2 185.2 L403.3 183.2 L404.3 181.1 L405.3 179.1 L406.3 177.1 L407.2 175.1 L408.2 173.2 L409.1 171.2 L409.9 169.3 L410.8 167.4 L411.6 165.5 L412.4 163.7 L413.1 161.9 L413.9 160.0 L414.6 158.3 L415.2 156.5 L415.9 154.8 L416.5 153.1 L417.1 151.4 L417.7 149.7 L418.2 148.1 L418.7 146.5 L419.2 144.9 L419.6 143.4 L420.0 141.9 L420.4 140.4 L420.8 138.9 L421.1 137.5 L421.4 136.1 L421.6 134.7 L421.9 133.4 L422.1 132.1 L422.2 130.8 L422.4 129.6 L422.5 128.4 L422.6 127.2 L422.6 126.1 L422.6 125.0 L422.6 123.9 L422.6 122.9 L422.5 121.9 L422.4 121.0 L422.2 120.0 L422.1 119.2 L421.9 118.3 L421.6 117.5 L421.4 116.7 L421.1 116.0 L420.8 115.3 L420.4 114.6 L420.0 114.0 L419.6 113.4 L419.2 112.9 L418.7 112.3 L418.2 111.9 L417.7 111.4M321.4 300.9 L324.0 300.0 L326.6 299.1 L329.2 298.1 L331.8 297.1 L334.4 296.2 L337.0 295.1 L339.6 294.1 L342.2 293.1 L344.8 292.0 L347.4 290.9 L349.9 289.9 L352.5 288.7 L355.0 287.6 L357.6 286.5 L360.1 285.3 L362.6 284.2 L365.1 283.0 L367.6 281.8 L370.1 280.6 L372.5 279.4 L375.0 278.2 L377.4 276.9 L379.8 275.7 L382.2 274.4 L384.6 273.1 L386.9 271.8 L389.3 270.5 L391.6 269.2 L393.9 267.9 L396.1 266.6 L398.4 265.3 L400.6 263.9 L402.8 262.6 L405.0 261.2 L407.1 259.9 L409.3 258.5 L411.4 257.1 L413.4 255.7 L415.5 254.4 L417.5 253.0 L419.5 251.6 L421.4 250.2 L423.3 248.8 L425.2 247.4 L427.1 246.0 L428.9 244.6 L430.7 243.1 L432.5 241.7 L434.2 240.3 L435.9 238.9 L437.6 237.5 L439.2 236.1 L440.8 234.7 L442.3 233.3 L443.9 231.9 L445.3 230.5 L446.8 229.1 L448.2 227.7 L449.5 226.3 L450.9 224.9 L452.1 223.5 L453.4 222.1 L454.6 220.7 L455.8 219.3 L456.9 218.0 L458.0 216.6 L459.0 215.3 L460.0 213.9 L461.0 212.6 L461.9 211.2 L462.7 209.9 L463.6 208.6 L464.4 207.3 L465.1 206.0 L465.8 204.7 L466.4 203.5 L467.1 202.2 L467.6 200.9 L468.1 199.7 L468.6 198.5 L469.0 197.3 L469.4 196.1 L469.8 194.9 L470.1 193.7 L470.3 192.5 L470.5 191.4 L470.7 190.2 L470.8 189.1 L470.9 188.0 L470.9 186.9 L470.9 185.9 L470.8 184.8 L470.7 183.8 L470.5 182.7 L470.3 181.7 L470.1 180.7 L469.8 179.8 L469.4 178.8M321.4 300.9 L324.2 301.3 L326.9 301.7 L329.7 302.1 L332.4 302.4 L335.1 302.8 L337.9 303.1 L340.6 303.4 L343.3 303.6 L346.1 303.9 L348.8 304.1 L351.5 304.3 L354.2 304.5 L356.9 304.7 L359.6 304.8 L362.2 305.0 L364.9 305.1 L367.5 305.2 L370.1 305.3 L372.7 305.3 L375.3 305.3 L377.9 305.3 L380.5 305.3 L383.0 305.3 L385.5 305.3 L388.0 305.2 L390.5 305.1 L393.0 305.0 L395.4 304.9 L397.9 304.7 L400.2 304.5 L402.6 304.3 L405.0 304.1 L407.3 303.9 L409.6 303.7 L411.9 303.4 L414.1 303.1 L416.3 302.8 L418.5 302.5 L420.6 302.1 L422.8 301.7 L424.9 301.4 L426.9 300.9 L429.0 300.5 L430.9 300.1 L432.9 299.6 L434.8 299.1 L436.7 298.6 L438.6 298.1 L440.4 297.6 L442.2 297.0 L444.0 296.5 L445.7 295.9 L447.3 295.3 L449.0 294.7 L450.6 294.0 L452.1 293.4 L453.7 292.7 L455.1 292.0 L456.6 291.3 L458.0 290.6 L459.3 289.8 L460.6 289.1 L461.9 288.3 L463.1 287.5 L464.3 286.7 L465.5 285.9 L466.6 285.1 L467.6 284.3 L468.6 283.4 L469.6 282.6 L470.5 281.7 L471.4 280.8 L472.2 279.9 L473.0 279.0 L473.7 278.0 L474.4 277.1 L475.1 276.1 L475.7 275.2 L476.2 274.2 L476.7 273.2 L477.2 272.2 L477.6 271.2 L477.9 270.2 L478.2 269.1 L478.5 268.1 L478.7 267.1M321.4 300.9 L323.6 302.5 L325.7 304.1 L327.9 305.7 L330.0 307.3 L332.2 308.8 L334.3 310.3 L336.5 311.8 L338.6 313.3 L340.7 314.8 L342.9 316.2 L345.0 317.6 L347.1 319.0 L349.2 320.3 L351.3 321.7 L353.4 323.0 L355.5 324.2 L357.6 325.5 L359.6 326.7 L361.7 327.9 L363.7 329.1 L365.7 330.2 L367.7 331.4 L369.7 332.5 L371.7 333.5 L373.7 334.6 L375.6 335.6 L377.5 336.5 L379.5 337.5 L381.4 338.4 L383.2 339.3 L385.1 340.1 L386.9 341.0 L388.7 341.8 L390.5 342.5 L392.3 343.2 L394.1 343.9 L395.8 344.6 L397.5 345.2 L399.2 345.8 L400.9 346.4 L402.5 346.9 L404.1 347.5 L405.7 347.9 L407.3 348.4 L408.8 348.8 L410.4 349.1 L411.8 349.5 L413.3 349.8 L414.7 350.0 L416.1 350.3 L417.5 350.5 L418.8 350.7 L420.2 350.8 L421.4 350.9 L422.7 351.0 L423.9 351.0 L425.1 351.0 L426.3 350.9 L427.4 350.9 L428.5 350.8 L429.6 350.6 L430.6 350.5 L431.6 350.2 L432.5 350.0 L433.5 349.7 L434.4 349.4 L435.2 349.1 L436.1 348.7 L436.8 348.3 L437.6 347.9 L438.3 347.4 L439.0 346.9 L439.7 346.3 L440.3 345.8 L440.8 345.2M321.4 300.9 L322.4 303.3 L323.4 305.7 L324.4 308.1 L325.3 310.4 L326.3 312.7 L327.3 315.0 L328.3 317.3 L329.3 319.5 L330.2 321.7 L331.2 323.9 L332.2 326.1 L333.1 328.2 L334.1 330.3 L335.1 332.4 L336.0 334.5 L337.0 336.5 L337.9 338.5 L338.9 340.5 L339.8 342.4 L340.7 344.3 L341.6 346.2 L342.6 348.0 L343.5 349.8 L344.4 351.6 L345.3 353.4 L346.2 355.1 L347.0 356.7 L347.9 358.4 L348.8 360.0 L349.6 361.5 L350.5 363.1 L351.3 364.5 L352.2 366.0 L353.0 367.4 L353.8 368.8 L354.6 370.1 L355.4 371.4 L356.2 372.6 L356.9 373.8 L357.7 375.0 L358.5 376.1 L359.2 377.2 L359.9 378.3 L360.6 379.3 L361.3 380.2 L362.0 381.1 L362.7 382.0 L363.4 382.8 L364.0 383.6 L364.7 384.4 L365.3 385.1 L365.9 385.7 L366.5 386.3 L367.1 386.9 L367.7 387.4 L368.2 387.9 L368.8 388.3 L369.3 388.7 L369.8 389.0 L370.3 389.3 L370.8 389.5 L371.3 389.7 L371.7 389.9 L372.2 390.0 L372.6 390.1 L373.0 390.1 L373.4 390.0 L373.8 390.0M321.4 300.9 L320.9 303.5 L320.5 306.0 L320.0 308.4 L319.6 310.9 L319.1 313.4 L318.7 315.8 L318.3 318.2 L317.8 320.6 L317.4 322.9 L316.9 325.2 L316.5 327.5 L316.0 329.8 L315.6 332.0 L315.2 334.3 L314.7 336.4 L314.3 338.6 L313.8 340.7 L313.4 342.8 L313.0 344.9 L312.6 346.9 L312.1 348.9 L311.7 350.9 L311.3 352.8 L310.9 354.7 L310.5 356.6 L310.1 358.4 L309.7 360.2 L309.3 361.9 L308.9 363.6 L308.5 365.3 L308.1 367.0 L307.7 368.6 L307.3 370.1 L307.0 371.6 L306.6 373.1 L306.2 374.5 L305.9 375.9 L305.5 377.3 L305.1 378.6 L304.8 379.9 L304.5 381.1 L304.1 382.3 L303.8 383.4 L303.5 384.5 L303.1 385.6 L302.8 386.6 L302.5 387.6 L302.2 388.5 L301.9 389.3 L301.6 390.2 L301.3 391.0 L301.1 391.7 L300.8 392.4 L300.5 393.0 L300.2 393.6 L300.0 394.2 L299.7 394.7 L299.5 395.1 L299.3 395.5 L299.0 395.9 L298.8 396.2 L298.6 396.4 L298.4 396.6 L298.2 396.8 L298.0 396.9 L297.8 397.0 L297.6 397.0M321.4 300.9 L319.6 302.9 L317.9 304.9 L316.1 306.8 L314.3 308.7 L312.6 310.6 L310.8 312.5 L309.1 314.4 L307.3 316.2 L305.6 318.0 L303.8 319.8 L302.1 321.5 L300.4 323.3 L298.6 325.0 L296.9 326.7 L295.2 328.3 L293.5 329.9 L291.8 331.5 L290.1 333.1 L288.4 334.7 L286.8 336.2 L285.1 337.7 L283.5 339.1 L281.9 340.5 L280.2 341.9 L278.6 343.3 L277.0 344.6 L275.4 345.9 L273.9 347.2 L272.3 348.4 L270.8 349.6 L269.3 350.8 L267.8 351.9 L266.3 353.0 L264.8 354.1 L263.3 355.1 L261.9 356.1 L260.5 357.1 L259.1 358.0 L257.7 358.9 L256.3 359.7 L255.0 360.5 L253.7 361.3 L252.4 362.0 L251.1 362.7 L249.8 363.4 L248.6 364.0 L247.4 364.6 L246.2 365.2 L245.0 365.7 L243.9 366.1 L242.7 366.6 L241.6 367.0 L240.6 367.3 L239.5 367.6 L238.5 367.9 L237.5 368.1 L236.5 368.3 L235.6 368.5 L234.6 368.6 L233.7 368.7 L232.9 368.7 L232.0 368.7 L231.2 368.7 L230.4 368.6 L229.7 368.5 L228.9 368.3 L228.2 368.1 L227.6 367.9 L226.9 367.6 L226.3 367.3 L225.7 366.9M321.4 300.9 L318.8 301.8 L316.2 302.7 L313.6 303.6 L311.0 304.4 L308.4 305.2 L305.8 306.0 L303.2 306.8 L300.6 307.6 L298.0 308.3 L295.4 309.0 L292.9 309.7 L290.3 310.4 L287.8 311.1 L285.2 311.7 L282.7 312.3 L280.2 312.9 L277.7 313.4 L275.2 314.0 L272.7 314.5 L270.3 315.0 L267.8 315.5 L265.4 315.9 L263.0 316.3 L260.6 316.8 L258.2 317.1 L255.9 317.5 L253.5 317.8 L251.2 318.1 L248.9 318.4 L246.7 318.7 L244.4 318.9 L242.2 319.1 L240.0 319.3 L237.8 319.5 L235.7 319.6 L233.5 319.7 L231.4 319.8 L229.4 319.9 L227.3 319.9 L225.3 319.9 L223.3 319.9 L221.4 319.9 L219.5 319.8 L217.6 319.7 L215.7 319.6 L213.9 319.5 L212.1 319.3 L210.3 319.1 L208.6 318.9 L206.9 318.7 L205.2 318.4 L203.6 318.2 L202.0 317.9 L200.5 317.5 L198.9 317.2 L197.5 316.8 L196.0 316.4 L194.6 316.0 L193.3 315.5 L191.9 315.1 L190.7 314.6 L189.4 314.0 L188.2 313.5 L187.0 312.9 L185.9 312.4 L184.8 311.8 L183.8 311.1 L182.8 310.5 L181.8 309.8 L180.9 309.1 L180.1 308.4 L179.2 307.7 L178.4 306.9 L177.7 306.1 L177.0 305.3 L176.4 304.5 L175.7 303.7 L175.2 302.8 L174.7 301.9 L174.2 301.0 L173.8 300.1M321.4 300.9 L318.6 300.5 L315.9 300.1 L313.1 299.6 L310.4 299.1 L307.7 298.6 L304.9 298.1 L302.2 297.6 L299.5 297.0 L296.7 296.4 L294.0 295.9 L291.3 295.2 L288.6 294.6 L285.9 294.0 L283.2 293.3 L280.6 292.7 L277.9 292.0 L275.3 291.3 L272.7 290.5 L270.1 289.8 L267.5 289.0 L264.9 288.3 L262.3 287.5 L259.8 286.7 L257.3 285.9 L254.8 285.1 L252.3 284.2 L249.8 283.4 L247.4 282.5 L244.9 281.6 L242.6 280.7 L240.2 279.8 L237.8 278.9 L235.5 278.0 L233.2 277.0 L230.9 276.1 L228.7 275.1 L226.5 274.1 L224.3 273.1 L222.2 272.1 L220.0 271.1 L217.9 270.1 L215.9 269.1 L213.8 268.1 L211.9 267.0 L209.9 266.0 L208.0 264.9 L206.1 263.8 L204.2 262.7 L202.4 261.7 L200.6 260.6 L198.8 259.5 L197.1 258.4 L195.5 257.3 L193.8 256.1 L192.2 255.0 L190.7 253.9 L189.1 252.8 L187.7 251.6 L186.2 250.5 L184.8 249.3 L183.5 248.2 L182.2 247.1 L180.9 245.9 L179.7 244.7 L178.5 243.6 L177.3 242.4 L176.2 241.3 L175.2 240.1 L174.2 239.0 L173.2 237.8 L172.3 236.7 L171.4 235.5 L170.6 234.3 L169.8 233.2 L169.1 232.0 L168.4 230.9 L167.7 229.7 L167.1 228.6 L166.6 227.4 L166.1 226.3 L165.6 225.2 L165.2 224.0 L164.9 222.9 L164.6 221.8 L164.3 220.7 L164.1 219.6 L163.9 218.5 L163.8 217.4 L163.7 216.3 L163.7 215.2 L163.7 214.1 L163.8 213.0 L163.9 212.0M321.4 300.9 L319.2 299.3 L317.1 297.6 L314.9 296.0 L312.8 294.3 L310.6 292.6 L308.5 290.8 L306.3 289.1 L304.2 287.3 L302.1 285.6 L299.9 283.8 L297.8 282.0 L295.7 280.2 L293.6 278.3 L291.5 276.5 L289.4 274.7 L287.3 272.8 L285.2 270.9 L283.2 269.1 L281.1 267.2 L279.1 265.3 L277.1 263.4 L275.1 261.5 L273.1 259.5 L271.1 257.6 L269.1 255.7 L267.2 253.8 L265.3 251.8 L263.3 249.9 L261.4 247.9 L259.6 246.0 L257.7 244.0 L255.9 242.1 L254.1 240.1 L252.3 238.2 L250.5 236.2 L248.7 234.3 L247.0 232.3 L245.3 230.4 L243.6 228.4 L241.9 226.5 L240.3 224.5 L238.7 222.6 L237.1 220.7 L235.5 218.7 L234.0 216.8 L232.4 214.9 L231.0 213.0 L229.5 211.1 L228.1 209.2 L226.7 207.3 L225.3 205.5 L224.0 203.6 L222.6 201.8 L221.4 199.9 L220.1 198.1 L218.9 196.3 L217.7 194.5 L216.5 192.7 L215.4 190.9 L214.3 189.2 L213.2 187.4 L212.2 185.7 L211.2 184.0 L210.3 182.3 L209.3 180.6 L208.4 178.9 L207.6 177.3 L206.7 175.7 L206.0 174.1 L205.2 172.5 L204.5 170.9 L203.8 169.4 L203.1 167.9 L202.5 166.4 L202.0 164.9 L201.4 163.4 L200.9 162.0 L200.4 160.6 L200.0 159.2 L199.6 157.9 L199.3 156.5 L198.9 155.2 L198.7 153.9 L198.4 152.7 L198.2 151.4 L198.0 150.2 L197.9 149.1 L197.8 147.9 L197.8 146.8 L197.7 145.7 L197.8 144.6 L197.8 143.6 L197.9 142.6 L198.0 141.6 L198.2 140.7 L198.4 139.7 L198.7 138.8 L198.9 138.0 L199.3 137.2 L199.6 136.4 L200.0 135.6 L200.4 134.9 L200.9 134.2 L201.4 133.5M321.4 300.9 L320.4 298.5 L319.4 296.1 L318.4 293.6 L317.5 291.2 L316.5 288.7 L315.5 286.2 L314.5 283.7 L313.5 281.1 L312.6 278.6 L311.6 276.1 L310.6 273.5 L309.7 270.9 L308.7 268.3 L307.7 265.7 L306.8 263.1 L305.8 260.5 L304.9 257.9 L303.9 255.3 L303.0 252.7 L302.1 250.1 L301.2 247.4 L300.2 244.8 L299.3 242.2 L298.4 239.5 L297.5 236.9 L296.6 234.2 L295.8 231.6 L294.9 229.0 L294.0 226.4 L293.2 223.7 L292.3 221.1 L291.5 218.5 L290.6 215.9 L289.8 213.3 L289.0 210.7 L288.2 208.1 L287.4 205.5 L286.6 203.0 L285.9 200.4 L285.1 197.9 L284.3 195.3 L283.6 192.8 L282.9 190.3 L282.2 187.8 L281.5 185.3 L280.8 182.9 L280.1 180.4 L279.4 178.0 L278.8 175.6 L278.1 173.2 L277.5 170.9 L276.9 168.5 L276.3 166.2 L275.7 163.9 L275.1 161.6 L274.6 159.4 L274.0 157.2 L273.5 155.0 L273.0 152.8 L272.5 150.6 L272.0 148.5 L271.5 146.4 L271.1 144.3 L270.6 142.3 L270.2 140.3 L269.8 138.3 L269.4 136.3 L269.0 134.4 L268.7 132.5 L268.3 130.7 L268.0 128.9 L267.7 127.1 L267.4 125.3 L267.1 123.6 L266.8 121.9 L266.6 120.3 L266.4 118.7 L266.1 117.1 L266.0 115.5 L265.8 114.0 L265.6 112.6 L265.5 111.2 L265.3 109.8 L265.2 108.4 L265.1 107.1 L265.1 105.9 L265.0 104.6 L264.9 103.4 L264.9 102.3 L264.9 101.2 L264.9 100.1 L264.9 99.1 L265.0 98.1 L265.1 97.2 L265.1 96.3 L265.2 95.5 L265.3 94.7 L265.5 93.9 L265.6 93.2 L265.8 92.5 L266.0 91.9 L266.1 91.3 L266.4 90.8 L266.6 90.3 L266.8 89.9 L267.1 89.5 L267.4 89.1 L267.7 88.8 L268.0 88.5 L268.3 88.3 L268.7 88.2M321.4 219.0 L322.8 219.0 L324.2 219.0 L325.6 219.1 L327.0 219.2 L328.4 219.3 L329.8 219.4 L331.1 219.5 L332.5 219.7 L333.9 219.9 L335.3 220.1 L336.6 220.3 L338.0 220.6 L339.4 220.9 L340.7 221.2 L342.1 221.5 L343.4 221.8 L344.8 222.2 L346.1 222.6 L347.4 223.0 L348.7 223.4 L350.0 223.9 L351.3 224.3 L352.6 224.8 L353.9 225.3 L355.2 225.9 L356.4 226.4 L357.7 227.0 L358.9 227.6 L360.1 228.2 L361.3 228.8 L362.6 229.5 L363.7 230.2 L364.9 230.9 L366.1 231.6 L367.2 232.3 L368.4 233.0 L369.5 233.8 L370.6 234.6 L371.7 235.4 L372.8 236.2 L373.8 237.0 L374.9 237.9 L375.9 238.8 L376.9 239.6 L377.9 240.5 L378.9 241.5 L379.8 242.4 L380.8 243.3 L381.7 244.3 L382.6 245.3 L383.5 246.3 L384.4 247.3 L385.2 248.3 L386.0 249.3 L386.9 250.4 L387.6 251.4 L388.4 252.5 L389.2 253.6 L389.9 254.7 L390.6 255.8 L391.3 256.9 L391.9 258.0 L392.6 259.2 L393.2 260.3 L393.8 261.5 L394.4 262.7 L394.9 263.8 L395.5 265.0 L396.0 266.2 L396.5 267.4 L396.9 268.6 L397.4 269.9 L397.8 271.1 L398.2 272.3 L398.6 273.6 L398.9 274.8 L399.3 276.1 L399.6 277.3 L399.8 278.6 L400.1 279.8 L400.3 281.1 L400.5 282.4 L400.7 283.7 L400.9 284.9 L401.0 286.2 L401.1 287.5 L401.2 288.8 L401.3 290.1 L401.3 291.3 L401.3 292.6 L401.3 293.9 L401.3 295.2 L401.2 296.5 L401.1 297.8 L401.0 299.0 L400.9 300.3 L400.7 301.6 L400.5 302.9 L400.3 304.2 L400.1 305.4 L399.8 306.7 L399.6 307.9 L399.3 309.2 L398.9 310.4 L398.6 311.7 L398.2 312.9 L397.8 314.2 L397.4 315.4 L396.9 316.6 L396.5 317.8 L396.0 319.0 L395.5 320.2 L394.9 321.4 L394.4 322.6 L393.8 323.8 L393.2 324.9 L392.6 326.1 L391.9 327.2 L391.3 328.3 L390.6 329.5 L389.9 330.6 L389.2 331.7 L388.4 332.7 L387.6 333.8 L386.9 334.9 L386.0 335.9 L385.2 337.0 L384.4 338.0 L383.5 339.0 L382.6 340.0 L381.7 341.0 L380.8 341.9 L379.8 342.9 L378.9 343.8 L377.9 344.7 L376.9 345.6 L375.9 346.5 L374.9 347.4 L373.8 348.2 L372.8 349.1 L371.7 349.9 L370.6 350.7 L369.5 351.5 L368.4 352.2 L367.2 353.0 L366.1 353.7 L364.9 354.4 L363.7 355.1 L362.6 355.8 L361.3 356.4 L360.1 357.1 L358.9 357.7 L357.7 358.3 L356.4 358.8 L355.2 359.4 L353.9 359.9 L352.6 360.4 L351.3 360.9 L350.0 361.4 L348.7 361.8 L347.4 362.3 L346.1 362.7 L344.8 363.1 L343.4 363.4 L342.1 363.8 L340.7 364.1 L339.4 364.4 L338.0 364.7 L336.6 364.9 L335.3 365.2 L333.9 365.4 L332.5 365.6 L331.1 365.7 L329.8 365.9 L328.4 366.0 L327.0 366.1 L325.6 366.2 L324.2 366.2 L322.8 366.3 L321.4 366.3 L320.0 366.3 L318.6 366.2 L317.2 366.2 L315.8 366.1 L314.4 366.0 L313.0 365.9 L311.7 365.7 L310.3 365.6 L308.9 365.4 L307.5 365.2 L306.2 364.9 L304.8 364.7 L303.4 364.4 L302.1 364.1 L300.7 363.8 L299.4 363.4 L298.0 363.1 L296.7 362.7 L295.4 362.3 L294.1 361.8 L292.8 361.4 L291.5 360.9 L290.2 360.4 L288.9 359.9 L287.6 359.4 L286.4 358.8 L285.1 358.3 L283.9 357.7 L282.7 357.1 L281.4 356.4 L280.2 355.8 L279.1 355.1 L277.9 354.4 L276.7 353.7 L275.6 353.0 L274.4 352.2 L273.3 351.5 L272.2 350.7 L271.1 349.9 L270.0 349.1 L269.0 348.2 L267.9 347.4 L266.9 346.5 L265.9 345.6 L264.9 344.7 L263.9 343.8 L263.0 342.9 L262.0 341.9 L261.1 341.0 L260.2 340.0 L259.3 339.0 L258.4 338.0 L257.6 337.0 L256.8 335.9 L255.9 334.9 L255.2 333.8 L254.4 332.7 L253.6 331.7 L252.9 330.6 L252.2 329.5 L251.5 328.3 L250.9 327.2 L250.2 326.1 L249.6 324.9 L249.0 323.8 L248.4 322.6 L247.9 321.4 L247.3 320.2 L246.8 319.0 L246.3 317.8 L245.9 316.6 L245.4 315.4 L245.0 314.2 L244.6 312.9 L244.2 311.7 L243.9 310.4 L243.5 309.2 L243.2 307.9 L243.0 306.7 L242.7 305.4 L242.5 304.2 L242.3 302.9 L242.1 301.6 L241.9 300.3 L241.8 299.0 L241.7 297.8 L241.6 296.5 L241.5 295.2 L241.5 293.9 L241.5 292.6 L241.5 291.3 L241.5 290.1 L241.6 288.8 L241.7 287.5 L241.8 286.2 L241.9 284.9 L242.1 283.7 L242.3 282.4 L242.5 281.1 L242.7 279.8 L243.0 278.6 L243.2 277.3 L243.5 276.1 L243.9 274.8 L244.2 273.6 L244.6 272.3 L245.0 271.1 L245.4 269.9 L245.9 268.6 L246.3 267.4 L246.8 266.2 L247.3 265.0 L247.9 263.8 L248.4 262.7 L249.0 261.5 L249.6 260.3 L250.2 259.2 L250.9 258.0 L251.5 256.9 L252.2 255.8 L252.9 254.7 L253.6 253.6 L254.4 252.5 L255.2 251.4 L255.9 250.4 L256.8 249.3 L257.6 248.3 L258.4 247.3 L259.3 246.3 L260.2 245.3 L261.1 244.3 L262.0 243.3 L263.0 242.4 L263.9 241.5 L264.9 240.5 L265.9 239.6 L266.9 238.8 L267.9 237.9 L269.0 237.0 L270.0 236.2 L271.1 235.4 L272.2 234.6 L273.3 233.8 L274.4 233.0 L275.6 232.3 L276.7 231.6 L277.9 230.9 L279.1 230.2 L280.2 229.5 L281.4 228.8 L282.7 228.2 L283.9 227.6 L285.1 227.0 L286.4 226.4 L287.6 225.9 L288.9 225.3 L290.2 224.8 L291.5 224.3 L292.8 223.9 L294.1 223.4 L295.4 223.0 L296.7 222.6 L298.0 222.2 L299.4 221.8 L300.7 221.5 L302.1 221.2 L303.4 220.9 L304.8 220.6 L306.2 220.3 L307.5 220.1 L308.9 219.9 L310.3 219.7 L311.7 219.5 L313.0 219.4 L314.4 219.3 L315.8 219.2 L317.2 219.1 L318.6 219.0 L320.0 219.0 L321.4 219.0M321.4 142.4 L323.8 142.4 L326.2 142.5 L328.6 142.6 L331.1 142.7 L333.5 142.9 L335.9 143.1 L338.3 143.3 L340.7 143.6 L343.0 144.0 L345.4 144.3 L347.8 144.7 L350.2 145.2 L352.5 145.7 L354.9 146.2 L357.2 146.7 L359.5 147.3 L361.9 148.0 L364.2 148.6 L366.5 149.3 L368.7 150.1 L371.0 150.9 L373.2 151.7 L375.5 152.5 L377.7 153.4 L379.9 154.3 L382.1 155.3 L384.2 156.3 L386.4 157.3 L388.5 158.4 L390.6 159.5 L392.7 160.6 L394.7 161.8 L396.8 163.0 L398.8 164.2 L400.8 165.5 L402.7 166.8 L404.7 168.1 L406.6 169.4 L408.5 170.8 L410.4 172.2 L412.2 173.7 L414.0 175.2 L415.8 176.7 L417.5 178.2 L419.3 179.8 L421.0 181.3 L422.6 183.0 L424.2 184.6 L425.8 186.3 L427.4 188.0 L428.9 189.7 L430.5 191.4 L431.9 193.2 L433.4 195.0 L434.8 196.8 L436.1 198.6 L437.5 200.5 L438.8 202.4 L440.0 204.3 L441.2 206.2 L442.4 208.1 L443.6 210.1 L444.7 212.0 L445.8 214.0 L446.8 216.0 L447.8 218.1 L448.8 220.1 L449.7 222.2 L450.6 224.2 L451.4 226.3 L452.3 228.4 L453.0 230.5 L453.7 232.7 L454.4 234.8 L455.1 236.9 L455.7 239.1 L456.2 241.3 L456.8 243.4 L457.2 245.6 L457.7 247.8 L458.1 250.0 L458.4 252.2 L458.8 254.4 L459.0 256.6 L459.3 258.8 L459.5 261.1 L459.6 263.3 L459.7 265.5 L459.8 267.7 L459.8 270.0 L459.8 272.2 L459.7 274.4 L459.6 276.6 L459.5 278.9 L459.3 281.1 L459.0 283.3 L458.8 285.5 L458.4 287.7 L458.1 289.9 L457.7 292.1 L457.2 294.3 L456.8 296.5 L456.2 298.7 L455.7 300.8 L455.1 303.0 L454.4 305.1 L453.7 307.3 L453.0 309.4 L452.3 311.5 L451.4 313.6 L450.6 315.7 L449.7 317.8 L448.8 319.8 L447.8 321.9 L446.8 323.9 L445.8 325.9 L444.7 327.9 L443.6 329.9 L442.4 331.8 L441.2 333.8 L440.0 335.7 L438.8 337.6 L437.5 339.4 L436.1 341.3 L434.8 343.1 L433.4 345.0 L431.9 346.7 L430.5 348.5 L428.9 350.2 L427.4 352.0 L425.8 353.7 L424.2 355.3 L422.6 357.0 L421.0 358.6 L419.3 360.2 L417.5 361.7 L415.8 363.3 L414.0 364.8 L412.2 366.2 L410.4 367.7 L408.5 369.1 L406.6 370.5 L404.7 371.9 L402.7 373.2 L400.8 374.5 L398.8 375.7 L396.8 377.0 L394.7 378.2 L392.7 379.3 L390.6 380.4 L388.5 381.5 L386.4 382.6 L384.2 383.6 L382.1 384.6 L379.9 385.6 L377.7 386.5 L375.5 387.4 L373.2 388.3 L371.0 389.1 L368.7 389.8 L366.5 390.6 L364.2 391.3 L361.9 392.0 L359.5 392.6 L357.2 393.2 L354.9 393.8 L352.5 394.3 L350.2 394.8 L347.8 395.2 L345.4 395.6 L343.0 396.0 L340.7 396.3 L338.3 396.6 L335.9 396.8 L333.5 397.1 L331.1 397.2 L328.6 397.4 L326.2 397.5 L323.8 397.5 L321.4 397.5 L319.0 397.5 L316.6 397.5 L314.2 397.4 L311.7 397.2 L309.3 397.1 L306.9 396.8 L304.5 396.6 L302.1 396.3 L299.8 396.0 L297.4 395.6 L295.0 395.2 L292.6 394.8 L290.3 394.3 L287.9 393.8 L285.6 393.2 L283.3 392.6 L280.9 392.0 L278.6 391.3 L276.3 390.6 L274.1 389.8 L271.8 389.1 L269.6 388.3 L267.3 387.4 L265.1 386.5 L262.9 385.6 L260.7 384.6 L258.6 383.6 L256.4 382.6 L254.3 381.5 L252.2 380.4 L250.1 379.3 L248.1 378.2 L246.0 377.0 L244.0 375.7 L242.0 374.5 L240.1 373.2 L238.1 371.9 L236.2 370.5 L234.3 369.1 L232.4 367.7 L230.6 366.2 L228.8 364.8 L227.0 363.3 L225.3 361.7 L223.5 360.2 L221.8 358.6 L220.2 357.0 L218.6 355.3 L217.0 353.7 L215.4 352.0 L213.9 350.2 L212.3 348.5 L210.9 346.7 L209.4 345.0 L208.0 343.1 L206.7 341.3 L205.3 339.4 L204.0 337.6 L202.8 335.7 L201.6 333.8 L200.4 331.8 L199.2 329.9 L198.1 327.9 L197.0 325.9 L196.0 323.9 L195.0 321.9 L194.0 319.8 L193.1 317.8 L192.2 315.7 L191.4 313.6 L190.5 311.5 L189.8 309.4 L189.1 307.3 L188.4 305.1 L187.7 303.0 L187.1 300.8 L186.6 298.7 L186.0 296.5 L185.6 294.3 L185.1 292.1 L184.7 289.9 L184.4 287.7 L184.0 285.5 L183.8 283.3 L183.5 281.1 L183.3 278.9 L183.2 276.6 L183.1 274.4 L183.0 272.2 L183.0 270.0 L183.0 267.7 L183.1 265.5 L183.2 263.3 L183.3 261.1 L183.5 258.8 L183.8 256.6 L184.0 254.4 L184.4 252.2 L184.7 250.0 L185.1 247.8 L185.6 245.6 L186.0 243.4 L186.6 241.3 L187.1 239.1 L187.7 236.9 L188.4 234.8 L189.1 232.7 L189.8 230.5 L190.5 228.4 L191.4 226.3 L192.2 224.2 L193.1 222.2 L194.0 220.1 L195.0 218.1 L196.0 216.0 L197.0 214.0 L198.1 212.0 L199.2 210.1 L200.4 208.1 L201.5 206.2 L202.8 204.3 L204.0 202.4 L205.3 200.5 L206.7 198.6 L208.0 196.8 L209.4 195.0 L210.9 193.2 L212.3 191.4 L213.9 189.7 L215.4 188.0 L217.0 186.3 L218.6 184.6 L220.2 183.0 L221.8 181.3 L223.5 179.8 L225.3 178.2 L227.0 176.7 L228.8 175.2 L230.6 173.7 L232.4 172.2 L234.3 170.8 L236.2 169.4 L238.1 168.1 L240.1 166.8 L242.0 165.5 L244.0 164.2 L246.0 163.0 L248.1 161.8 L250.1 160.6 L252.2 159.5 L254.3 158.4 L256.4 157.3 L258.6 156.3 L260.7 155.3 L262.9 154.3 L265.1 153.4 L267.3 152.5 L269.6 151.7 L271.8 150.9 L274.1 150.1 L276.3 149.3 L278.6 148.6 L280.9 148.0 L283.3 147.3 L285.6 146.7 L287.9 146.2 L290.3 145.7 L292.6 145.2 L295.0 144.7 L297.4 144.3 L299.8 144.0 L302.1 143.6 L304.5 143.3 L306.9 143.1 L309.3 142.9 L311.7 142.7 L314.2 142.6 L316.6 142.5 L319.0 142.4 L321.4 142.4M321.4 91.7 L324.2 91.7 L327.0 91.8 L329.8 91.9 L332.5 92.0 L335.3 92.2 L338.1 92.5 L340.9 92.8 L343.6 93.1 L346.4 93.5 L349.1 93.9 L351.9 94.4 L354.6 94.9 L357.3 95.5 L360.1 96.1 L362.8 96.7 L365.4 97.4 L368.1 98.1 L370.8 98.9 L373.4 99.7 L376.1 100.6 L378.7 101.5 L381.3 102.4 L383.8 103.4 L386.4 104.4 L388.9 105.5 L391.5 106.6 L393.9 107.7 L396.4 108.9 L398.9 110.2 L401.3 111.4 L403.7 112.7 L406.1 114.1 L408.4 115.5 L410.8 116.9 L413.1 118.3 L415.3 119.8 L417.6 121.4 L419.8 122.9 L422.0 124.5 L424.1 126.2 L426.2 127.8 L428.3 129.5 L430.4 131.3 L432.4 133.0 L434.4 134.8 L436.4 136.7 L438.3 138.5 L440.2 140.4 L442.0 142.4 L443.8 144.3 L445.6 146.3 L447.3 148.3 L449.0 150.3 L450.7 152.4 L452.3 154.5 L453.9 156.6 L455.4 158.8 L456.9 160.9 L458.4 163.1 L459.8 165.3 L461.2 167.6 L462.5 169.8 L463.8 172.1 L465.0 174.4 L466.2 176.7 L467.4 179.1 L468.5 181.4 L469.6 183.8 L470.6 186.2 L471.6 188.6 L472.5 191.0 L473.4 193.5 L474.2 195.9 L475.0 198.4 L475.8 200.9 L476.5 203.4 L477.1 205.9 L477.7 208.4 L478.3 210.9 L478.8 213.4 L479.2 216.0 L479.6 218.5 L480.0 221.0 L480.3 223.6 L480.6 226.2 L480.8 228.7 L481.0 231.3 L481.1 233.9 L481.2 236.4 L481.2 239.0M161.6 236.4 L161.7 233.9 L161.8 231.3 L162.0 228.7 L162.2 226.2 L162.5 223.6 L162.8 221.0 L163.2 218.5 L163.6 216.0 L164.0 213.4 L164.5 210.9 L165.1 208.4 L165.7 205.9 L166.3 203.4 L167.0 200.9 L167.8 198.4 L168.6 195.9 L169.4 193.5 L170.3 191.0 L171.2 188.6 L172.2 186.2 L173.2 183.8 L174.3 181.4 L175.4 179.1 L176.6 176.7 L177.8 174.4 L179.0 172.1 L180.3 169.8 L181.6 167.6 L183.0 165.3 L184.4 163.1 L185.9 160.9 L187.4 158.8 L188.9 156.6 L190.5 154.5 L192.1 152.4 L193.8 150.3 L195.5 148.3 L197.2 146.3 L199.0 144.3 L200.8 142.4 L202.6 140.4 L204.5 138.5 L206.4 136.7 L208.4 134.8 L210.4 133.0 L212.4 131.3 L214.5 129.5 L216.6 127.8 L218.7 126.2 L220.8 124.5 L223.0 122.9 L225.2 121.4 L227.5 119.8 L229.7 118.3 L232.0 116.9 L234.4 115.5 L236.7 114.1 L239.1 112.7 L241.5 111.4 L243.9 110.2 L246.4 108.9 L248.9 107.7 L251.3 106.6 L253.9 105.5 L256.4 104.4 L259.0 103.4 L261.5 102.4 L264.1 101.5 L266.7 100.6 L269.4 99.7 L272.0 98.9 L274.7 98.1 L277.4 97.4 L280.0 96.7 L282.7 96.1 L285.5 95.5 L288.2 94.9 L290.9 94.4 L293.7 93.9 L296.4 93.5 L299.2 93.1 L301.9 92.8 L304.7 92.5 L307.5 92.2 L310.3 92.0 L313.0 91.9 L315.8 91.8 L318.6 91.7 L321.4 91.7" fill="none" stroke="#b0b0b0" stroke-opacity="0.65" stroke-width="0.9"/>
</g>
<path d="M209.9 128.7 L217.4 121.7 L227.1 113.7 L236.6 107.1 L241.7 104.0 L247.0 101.0 L252.1 98.4 L257.4 95.9 L262.6 93.6 L267.8 92.0 L273.3 91.5 L278.8 90.7 L284.2 90.4 L288.6 90.4 L290.8 91.5 L293.0 93.7 L296.3 94.2 L300.6 93.9 L306.0 94.2 L309.2 95.5 L316.9 95.0 L322.4 95.3 L327.8 97.1 L333.3 98.8 L335.5 101.0 L334.4 102.6 L331.1 104.8 L326.7 107.5 L324.5 109.7 L324.0 114.1 L322.4 118.5 L320.2 121.8 L316.3 126.9 L311.2 128.1 L306.2 129.4 L302.5 131.9 L300.0 134.4 L300.0 138.8 L298.1 141.9 L295.0 146.2 L293.1 149.4 L291.9 152.5 L288.8 156.2 L283.8 158.1 L280.0 157.5 L278.8 156.9M280.6 158.8 L283.8 161.9 L284.4 164.4 L281.2 167.5 L277.5 170.0 L274.4 171.9 L274.4 175.0 L272.5 177.5 L270.2 178.9 L272.5 182.8 L271.0 187.5 L269.4 192.2 L271.0 195.3 L272.5 200.0 L272.5 204.7 L273.3 209.4 L271.7 212.5 L274.0 211.7 L280.3 212.5 L277.2 214.8 L272.5 216.4 L267.8 214.0 L263.9 209.4 L260.8 204.7 L258.4 200.0 L257.7 195.3 L255.3 191.4 L254.5 187.5 L253.0 182.8 L250.6 178.9 L250.6 173.4 L249.8 167.2 L249.0 162.5 L247.5 156.2 L246.7 150.0 L245.6 147.5 L245.0 140.0 L241.2 137.5 L233.8 138.8 L227.5 137.5 L220.0 135.0 L215.6 133.8 L216.9 130.0 L217.5 126.2 L220.6 123.0 L224.4 118.8 L224.2 116.0 L223.2 116.8M249.0 108.5 L252.0 106.0 L256.0 104.2 L261.0 103.2 L265.5 104.4M233.8 119.4 L238.8 117.5 L242.5 115.0 L247.5 111.2 L252.5 108.8 L256.9 104.0 L262.4 103.5 L265.6 104.6 L271.1 102.4 L278.8 99.7 L284.2 97.5 L289.7 95.3 L294.1 94.8 L300.6 93.9M371.7 90.5 L378.4 92.9 L392.8 99.4 L404.8 106.2 L416.0 115.0 L429.1 125.0 L439.0 136.0 L443.0 143.0 L442.0 147.0 L446.0 154.0 L447.5 160.0 L446.7 165.0 L440.8 168.3 L439.0 176.0 L438.3 190.0 L436.0 200.0 L434.2 208.3 L436.7 215.0 L441.7 223.3 L445.3 226.0 L452.4 228.7 L456.8 226.9 L459.5 229.6 L463.0 226.0 L466.5 223.4 L469.2 226.9 L472.7 231.3 L475.4 226.0 L476.3 219.0 L476.7 217.4M470.0 191.5 L471.0 199.5M471.7 194.4 L473.2 199.8M471.0 210.0 L472.7 215.4M464.8 252.6 L466.5 248.0 L471.0 245.5 L472.7 242.8 L474.5 247.3 L477.2 250.0 L476.3 254.3 L471.9 257.0 L466.5 257.9 L464.8 255.2 L464.8 252.6M242.3 368.2 L245.4 369.4 L246.9 371.3 L248.5 374.8 L249.3 372.9 L250.8 371.3 L254.0 371.7 L257.1 372.9 L261.8 372.1 L266.5 372.5 L271.2 375.2 L267.2 376.0 L262.6 375.2 L257.9 374.5 L254.0 374.0 L251.6 373.7 L249.3 372.9M284.3 391.3 L288.0 392.2 L295.0 393.5 L298.8 392.5 L304.4 392.1 L308.1 392.9 L312.8 392.5 L317.5 394.0 L321.3 394.4 L325.0 395.3 L328.8 394.8 L336.3 394.4 L345.7 393.9 L355.0 392.1 L362.6 390.3 L370.0 386.9 L375.7 385.0 L380.8 384.1 L384.2 382.7M303.5 388.8 L306.5 387.7 L310.0 388.6 L306.5 389.8 L303.5 388.8M298.3 232.5 L295.8 238.3 L295.0 245.0 L292.5 251.7 L290.0 255.0 L291.7 259.2 L289.2 263.3 L287.5 268.3 L282.5 270.8 L279.2 275.0 L280.8 278.3 L279.2 283.3 L280.8 286.7 L277.5 291.7 L275.5 295.0 L279.2 300.0 L283.3 306.7 L285.8 310.0 L290.0 314.0 L295.0 318.3 L298.3 321.7 L300.0 325.0 L305.0 328.3 L307.5 330.8 L305.0 333.3 L300.0 335.0 L295.8 338.3 L296.7 340.0 L301.7 343.3 L306.7 346.7 L309.2 350.0 L313.3 352.5 L318.3 353.3 L323.3 354.2 L330.0 353.5 L336.7 352.5 L341.7 351.7 L346.7 349.2 L351.7 347.5 L355.0 345.8 L360.0 344.2 L365.0 341.7 L366.7 338.3 L368.3 335.8 L370.0 333.3 L373.3 330.0 L375.8 328.3 L374.2 325.8 L372.5 323.3 L371.7 320.0 L373.3 317.5 L376.7 315.0 L378.3 310.0 L379.2 306.7 L380.8 303.3 L383.3 300.0 L385.0 298.3 L383.3 296.7 L381.7 293.3 L378.3 290.0 L375.0 287.5 L375.8 283.3 L375.0 280.0 L371.7 277.5 L368.3 273.3 L366.7 267.5 L363.3 264.2 L358.3 260.8 L355.0 257.5 L351.7 256.7 L348.3 255.0 L343.3 256.7 L340.0 257.5 L335.0 260.8 L330.0 263.3 L327.2 265.0" fill="none" stroke="#0a0a0a" stroke-opacity="0.85" stroke-width="0.9" stroke-linejoin="round"/>
<circle cx="321.4" cy="239.0" r="159.8" fill="none" stroke="#8a8a8a" stroke-width="1.2"/>
<text x="17.9" y="33.6" font-size="17.9" textLength="226.8" lengthAdjust="spacing">GOME–2 / MetOp Forecast</text>
<text x="18.4" y="58.5" font-size="17.9">HCl at 55.4 hPa</text>
<text x="623.8" y="33.8" font-size="17.9" text-anchor="end" textLength="210.2" lengthAdjust="spacing">Sep 18, 2013, 12:00 GMT</text>
<text x="623.6" y="62" font-size="17.9" text-anchor="end" textLength="188" lengthAdjust="spacing">Southern Hemisphere</text>
<text x="17.4" y="417" font-size="13.9" textLength="227" lengthAdjust="spacing">4DVar Chemical Data Assimilation</text>
<text x="17.4" y="439.7" font-size="13.9" textLength="138" lengthAdjust="spacing">SACADA Version 2.4</text>
<text x="17.2" y="462.3" font-size="13.9" textLength="108" lengthAdjust="spacing">http://wdc.dlr.de</text>
<text x="338.6" y="415.4" font-size="13.75" textLength="181.8" lengthAdjust="spacing">Volume Mixing Ratio [ppbv]</text>
<!-- colorbar -->
<rect x="331" y="424" width="200" height="16.5" fill="url(#cb)"/>
<polygon points="331,424 322,432.6 331,441" fill="#dcdcdc" stroke="#000" stroke-width="1.6" stroke-linejoin="miter"/>
<polygon points="531,424 540,432.6 531,441" fill="#4a2e2e" stroke="#000" stroke-width="1.6"/>
<rect x="331" y="424" width="200" height="16.5" fill="none" stroke="#000" stroke-width="2"/>
<g stroke="#555" stroke-width="1.2">
<line x1="331" y1="441" x2="331" y2="446.5"/><line x1="356" y1="441" x2="356" y2="443.5"/>
<line x1="381" y1="441" x2="381" y2="446.5"/><line x1="406" y1="441" x2="406" y2="443.5"/>
<line x1="431" y1="441" x2="431" y2="446.5"/><line x1="456" y1="441" x2="456" y2="443.5"/>
<line x1="481" y1="441" x2="481" y2="446.5"/><line x1="506" y1="441" x2="506" y2="443.5"/>
<line x1="531" y1="441" x2="531" y2="446.5"/>
</g>
<g font-size="13.3" text-anchor="middle">
<text x="331" y="463">0.0</text><text x="381" y="463">0.5</text><text x="431" y="463">1.0</text>
<text x="481" y="463">1.5</text><text x="531" y="463">2.0</text>
</g>
<!-- RIU logo -->
<path d="M568.2,400.6 L568.2,390 L570.6,376.8 L572.4,390 L573.8,390 L575.6,376.2 L578,390 L578,400.6 Z" fill="#6e6e6e"/>
<text x="579.6" y="395" font-size="24.5" font-style="italic" textLength="44" lengthAdjust="spacingAndGlyphs">RIU</text>
<path d="M560,400 C565,398 572,396.5 578,397 C585,398.5 590,402 597,401.8 C605,401.5 613,398 623,396" fill="none" stroke="#1a1ae6" stroke-width="2.2"/>
<!-- DLR logo -->
<polygon points="565,441.8 576.5,430.3 620.5,430.3 609,441.8" fill="#000"/>
<polygon points="571.6,438.9 577.3,433.2 588.1,433.2 582.4,438.9" fill="#fff"/>
<polygon points="585.5,438.9 591.2,433.2 601.8,433.2 596.1,438.9" fill="#fff"/>
<polygon points="599.4,438.9 605.1,433.2 614.4,433.2 608.7,438.9" fill="#fff"/>
<polygon points="606.5,414 606.5,431 589.5,431" fill="#000"/>
<polygon points="604,420.5 604,430.3 595.5,430.3" fill="#fff"/>
<polygon points="579.8,441 596,441 579.8,458" fill="#000"/>
<polygon points="582.3,442.5 591,442.5 582.3,451.5" fill="#fff"/>
<text x="596" y="462" font-size="13.5">DLR</text>
</svg>
</body></html>
